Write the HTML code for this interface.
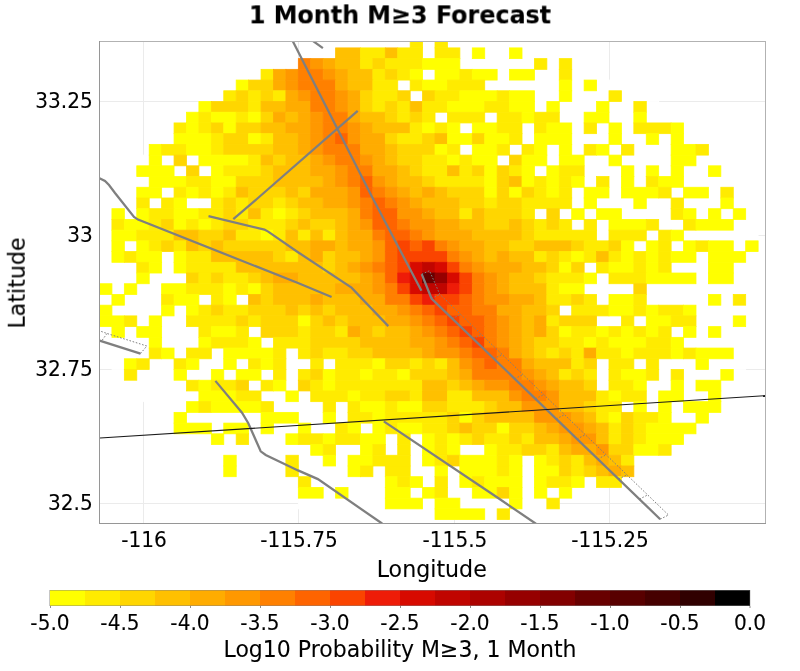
<!DOCTYPE html>
<html><head><meta charset="utf-8"><title>1 Month M≥3 Forecast</title>
<style>
html,body{margin:0;padding:0;background:#fff;}
body{width:800px;height:671px;position:relative;overflow:hidden;font-family:"DejaVu Sans","Liberation Sans",sans-serif;color:#000;}
.t{position:absolute;white-space:nowrap;line-height:1;will-change:transform;transform:scale(1.006,1.03);transform-origin:50% 80%;-webkit-text-stroke:0.1px #000;}
.title{font-weight:bold;font-size:24px;left:0;width:800px;text-align:center;top:3px;transform:scale(0.992,1.03);-webkit-text-stroke:0.1px #000;}
.tk{font-size:20px;}
.xt{top:530px;margin-left:0.5px;text-align:center;width:120px;}
.yt{text-align:right;width:92.5px;left:0;}
.ax{font-size:22px;}
.cb{top:613px;text-align:center;width:80px;font-size:20px;}
</style></head><body>
<svg width="800" height="671" viewBox="0 0 800 671" style="position:absolute;left:0;top:0">
<defs><clipPath id="cp"><rect x="100" y="42" width="665" height="481"/></clipPath></defs>
<rect x="0" y="0" width="800" height="671" fill="#fff"/>
<rect x="143" y="42" width="1" height="481" fill="#ebebeb"/>
<rect x="298" y="42" width="1" height="481" fill="#ebebeb"/>
<rect x="454" y="42" width="1" height="481" fill="#ebebeb"/>
<rect x="609" y="42" width="1" height="481" fill="#ebebeb"/>
<rect x="100" y="101" width="665" height="1" fill="#ebebeb"/>
<rect x="100" y="235" width="665" height="1" fill="#ebebeb"/>
<rect x="100" y="369" width="665" height="1" fill="#ebebeb"/>
<rect x="100" y="503" width="665" height="1" fill="#ebebeb"/>
<g clip-path="url(#cp)" stroke-width="0.8">
<g fill="#fff" stroke="#fff">
<rect x="385.31" y="37.18" width="86.99" height="10.72"/>
<rect x="323.18" y="47.90" width="211.25" height="10.72"/>
<rect x="285.90" y="58.62" width="285.81" height="10.72"/>
<rect x="261.05" y="69.34" width="335.52" height="10.72"/>
<rect x="236.19" y="80.06" width="385.23" height="10.72"/>
<rect x="211.34" y="90.78" width="434.93" height="10.72"/>
<rect x="198.91" y="101.50" width="459.79" height="10.72"/>
<rect x="186.49" y="112.22" width="484.64" height="10.72"/>
<rect x="174.06" y="122.94" width="509.49" height="10.72"/>
<rect x="161.63" y="133.66" width="534.35" height="10.72"/>
<rect x="149.21" y="144.38" width="559.20" height="10.72"/>
<rect x="136.78" y="155.10" width="584.05" height="10.72"/>
<rect x="136.78" y="165.82" width="584.05" height="10.72"/>
<rect x="124.35" y="176.54" width="608.91" height="10.72"/>
<rect x="124.35" y="187.26" width="608.91" height="10.72"/>
<rect x="111.93" y="197.98" width="633.76" height="10.72"/>
<rect x="111.93" y="208.70" width="633.76" height="10.72"/>
<rect x="99.50" y="219.42" width="658.62" height="10.72"/>
<rect x="99.50" y="230.14" width="658.62" height="10.72"/>
<rect x="99.50" y="240.86" width="658.62" height="10.72"/>
<rect x="99.50" y="251.58" width="658.62" height="10.72"/>
<rect x="99.50" y="262.30" width="658.62" height="10.72"/>
<rect x="99.50" y="273.02" width="658.62" height="10.72"/>
<rect x="99.50" y="283.74" width="658.62" height="10.72"/>
<rect x="99.50" y="294.46" width="658.62" height="10.72"/>
<rect x="99.50" y="305.18" width="658.62" height="10.72"/>
<rect x="99.50" y="315.90" width="658.62" height="10.72"/>
<rect x="99.50" y="326.62" width="658.62" height="10.72"/>
<rect x="111.93" y="337.34" width="633.76" height="10.72"/>
<rect x="111.93" y="348.06" width="633.76" height="10.72"/>
<rect x="111.93" y="358.78" width="633.76" height="10.72"/>
<rect x="124.35" y="369.50" width="608.91" height="10.72"/>
<rect x="124.35" y="380.22" width="608.91" height="10.72"/>
<rect x="136.78" y="390.94" width="584.05" height="10.72"/>
<rect x="149.21" y="401.66" width="571.63" height="10.72"/>
<rect x="149.21" y="412.38" width="559.20" height="10.72"/>
<rect x="161.63" y="423.10" width="534.35" height="10.72"/>
<rect x="174.06" y="433.82" width="509.49" height="10.72"/>
<rect x="186.49" y="444.54" width="484.64" height="10.72"/>
<rect x="198.91" y="455.26" width="459.79" height="10.72"/>
<rect x="223.77" y="465.98" width="410.08" height="10.72"/>
<rect x="248.62" y="476.70" width="372.80" height="10.72"/>
<rect x="261.05" y="487.42" width="335.52" height="10.72"/>
<rect x="298.33" y="498.14" width="260.96" height="10.72"/>
<rect x="335.61" y="508.86" width="186.40" height="10.72"/>
</g>
<rect x="410.17" y="37.18" width="12.43" height="10.72" fill="#ffeb00" stroke="#ffeb00"/>
<rect x="435.02" y="37.18" width="12.43" height="10.72" fill="#ffeb00" stroke="#ffeb00"/>
<rect x="335.61" y="47.90" width="24.85" height="10.72" fill="#ffc000" stroke="#ffc000"/>
<rect x="360.46" y="47.90" width="24.85" height="10.72" fill="#ffeb00" stroke="#ffeb00"/>
<rect x="385.31" y="47.90" width="12.43" height="10.72" fill="#ffc000" stroke="#ffc000"/>
<rect x="397.74" y="47.90" width="24.85" height="10.72" fill="#ffeb00" stroke="#ffeb00"/>
<rect x="435.02" y="47.90" width="24.85" height="10.72" fill="#ffeb00" stroke="#ffeb00"/>
<rect x="472.30" y="47.90" width="12.43" height="10.72" fill="#ffff00" stroke="#ffff00"/>
<rect x="509.58" y="47.90" width="12.43" height="10.72" fill="#ffff00" stroke="#ffff00"/>
<rect x="298.33" y="58.62" width="12.43" height="10.72" fill="#ff8000" stroke="#ff8000"/>
<rect x="310.75" y="58.62" width="12.43" height="10.72" fill="#ff9800" stroke="#ff9800"/>
<rect x="323.18" y="58.62" width="12.43" height="10.72" fill="#ffac00" stroke="#ffac00"/>
<rect x="335.61" y="58.62" width="24.85" height="10.72" fill="#ffc000" stroke="#ffc000"/>
<rect x="360.46" y="58.62" width="12.43" height="10.72" fill="#ffeb00" stroke="#ffeb00"/>
<rect x="372.89" y="58.62" width="12.43" height="10.72" fill="#ffd600" stroke="#ffd600"/>
<rect x="385.31" y="58.62" width="37.28" height="10.72" fill="#ffeb00" stroke="#ffeb00"/>
<rect x="422.59" y="58.62" width="37.28" height="10.72" fill="#ffff00" stroke="#ffff00"/>
<rect x="534.43" y="58.62" width="12.43" height="10.72" fill="#ffeb00" stroke="#ffeb00"/>
<rect x="559.29" y="58.62" width="12.43" height="10.72" fill="#ffeb00" stroke="#ffeb00"/>
<rect x="261.05" y="69.34" width="12.43" height="10.72" fill="#ffeb00" stroke="#ffeb00"/>
<rect x="273.47" y="69.34" width="12.43" height="10.72" fill="#ffac00" stroke="#ffac00"/>
<rect x="285.90" y="69.34" width="12.43" height="10.72" fill="#ff9800" stroke="#ff9800"/>
<rect x="298.33" y="69.34" width="24.85" height="10.72" fill="#ff8000" stroke="#ff8000"/>
<rect x="323.18" y="69.34" width="12.43" height="10.72" fill="#ff9800" stroke="#ff9800"/>
<rect x="335.61" y="69.34" width="12.43" height="10.72" fill="#ffac00" stroke="#ffac00"/>
<rect x="348.03" y="69.34" width="24.85" height="10.72" fill="#ffc000" stroke="#ffc000"/>
<rect x="372.89" y="69.34" width="12.43" height="10.72" fill="#ffeb00" stroke="#ffeb00"/>
<rect x="385.31" y="69.34" width="12.43" height="10.72" fill="#ffd600" stroke="#ffd600"/>
<rect x="397.74" y="69.34" width="12.43" height="10.72" fill="#ffeb00" stroke="#ffeb00"/>
<rect x="410.17" y="69.34" width="12.43" height="10.72" fill="#ffff00" stroke="#ffff00"/>
<rect x="435.02" y="69.34" width="24.85" height="10.72" fill="#ffff00" stroke="#ffff00"/>
<rect x="459.87" y="69.34" width="12.43" height="10.72" fill="#ffeb00" stroke="#ffeb00"/>
<rect x="472.30" y="69.34" width="24.85" height="10.72" fill="#ffff00" stroke="#ffff00"/>
<rect x="509.58" y="69.34" width="24.85" height="10.72" fill="#ffff00" stroke="#ffff00"/>
<rect x="559.29" y="69.34" width="12.43" height="10.72" fill="#ffeb00" stroke="#ffeb00"/>
<rect x="236.19" y="80.06" width="12.43" height="10.72" fill="#ffff00" stroke="#ffff00"/>
<rect x="248.62" y="80.06" width="24.85" height="10.72" fill="#ffd600" stroke="#ffd600"/>
<rect x="273.47" y="80.06" width="12.43" height="10.72" fill="#ffac00" stroke="#ffac00"/>
<rect x="285.90" y="80.06" width="12.43" height="10.72" fill="#ff9800" stroke="#ff9800"/>
<rect x="298.33" y="80.06" width="37.28" height="10.72" fill="#ff8000" stroke="#ff8000"/>
<rect x="335.61" y="80.06" width="12.43" height="10.72" fill="#ffac00" stroke="#ffac00"/>
<rect x="348.03" y="80.06" width="24.85" height="10.72" fill="#ffc000" stroke="#ffc000"/>
<rect x="372.89" y="80.06" width="24.85" height="10.72" fill="#ffeb00" stroke="#ffeb00"/>
<rect x="410.17" y="80.06" width="12.43" height="10.72" fill="#ffeb00" stroke="#ffeb00"/>
<rect x="422.59" y="80.06" width="24.85" height="10.72" fill="#ffff00" stroke="#ffff00"/>
<rect x="447.45" y="80.06" width="37.28" height="10.72" fill="#ffeb00" stroke="#ffeb00"/>
<rect x="559.29" y="80.06" width="12.43" height="10.72" fill="#ffff00" stroke="#ffff00"/>
<rect x="584.14" y="80.06" width="12.43" height="10.72" fill="#ffff00" stroke="#ffff00"/>
<rect x="223.77" y="90.78" width="12.43" height="10.72" fill="#ffeb00" stroke="#ffeb00"/>
<rect x="236.19" y="90.78" width="12.43" height="10.72" fill="#ffd600" stroke="#ffd600"/>
<rect x="248.62" y="90.78" width="12.43" height="10.72" fill="#ffeb00" stroke="#ffeb00"/>
<rect x="261.05" y="90.78" width="12.43" height="10.72" fill="#ffd600" stroke="#ffd600"/>
<rect x="273.47" y="90.78" width="12.43" height="10.72" fill="#ffeb00" stroke="#ffeb00"/>
<rect x="285.90" y="90.78" width="12.43" height="10.72" fill="#ffac00" stroke="#ffac00"/>
<rect x="298.33" y="90.78" width="12.43" height="10.72" fill="#ff9800" stroke="#ff9800"/>
<rect x="310.75" y="90.78" width="24.85" height="10.72" fill="#ff8000" stroke="#ff8000"/>
<rect x="335.61" y="90.78" width="12.43" height="10.72" fill="#ff9800" stroke="#ff9800"/>
<rect x="348.03" y="90.78" width="12.43" height="10.72" fill="#ffac00" stroke="#ffac00"/>
<rect x="360.46" y="90.78" width="12.43" height="10.72" fill="#ffd600" stroke="#ffd600"/>
<rect x="372.89" y="90.78" width="24.85" height="10.72" fill="#ffeb00" stroke="#ffeb00"/>
<rect x="397.74" y="90.78" width="12.43" height="10.72" fill="#ffd600" stroke="#ffd600"/>
<rect x="422.59" y="90.78" width="12.43" height="10.72" fill="#ffd600" stroke="#ffd600"/>
<rect x="435.02" y="90.78" width="24.85" height="10.72" fill="#ffeb00" stroke="#ffeb00"/>
<rect x="459.87" y="90.78" width="37.28" height="10.72" fill="#ffff00" stroke="#ffff00"/>
<rect x="497.15" y="90.78" width="12.43" height="10.72" fill="#ffeb00" stroke="#ffeb00"/>
<rect x="509.58" y="90.78" width="24.85" height="10.72" fill="#ffff00" stroke="#ffff00"/>
<rect x="559.29" y="90.78" width="12.43" height="10.72" fill="#ffff00" stroke="#ffff00"/>
<rect x="608.99" y="90.78" width="12.43" height="10.72" fill="#ffeb00" stroke="#ffeb00"/>
<rect x="198.91" y="101.50" width="12.43" height="10.72" fill="#ffff00" stroke="#ffff00"/>
<rect x="211.34" y="101.50" width="37.28" height="10.72" fill="#ffd600" stroke="#ffd600"/>
<rect x="248.62" y="101.50" width="12.43" height="10.72" fill="#ffeb00" stroke="#ffeb00"/>
<rect x="261.05" y="101.50" width="24.85" height="10.72" fill="#ffc000" stroke="#ffc000"/>
<rect x="285.90" y="101.50" width="24.85" height="10.72" fill="#ffac00" stroke="#ffac00"/>
<rect x="310.75" y="101.50" width="24.85" height="10.72" fill="#ff8000" stroke="#ff8000"/>
<rect x="335.61" y="101.50" width="12.43" height="10.72" fill="#ff9800" stroke="#ff9800"/>
<rect x="348.03" y="101.50" width="12.43" height="10.72" fill="#ffac00" stroke="#ffac00"/>
<rect x="360.46" y="101.50" width="12.43" height="10.72" fill="#ffd600" stroke="#ffd600"/>
<rect x="372.89" y="101.50" width="12.43" height="10.72" fill="#ffeb00" stroke="#ffeb00"/>
<rect x="385.31" y="101.50" width="12.43" height="10.72" fill="#ffd600" stroke="#ffd600"/>
<rect x="397.74" y="101.50" width="12.43" height="10.72" fill="#ffeb00" stroke="#ffeb00"/>
<rect x="410.17" y="101.50" width="12.43" height="10.72" fill="#ffc000" stroke="#ffc000"/>
<rect x="422.59" y="101.50" width="24.85" height="10.72" fill="#ffeb00" stroke="#ffeb00"/>
<rect x="447.45" y="101.50" width="37.28" height="10.72" fill="#ffff00" stroke="#ffff00"/>
<rect x="484.73" y="101.50" width="24.85" height="10.72" fill="#ffeb00" stroke="#ffeb00"/>
<rect x="509.58" y="101.50" width="24.85" height="10.72" fill="#ffff00" stroke="#ffff00"/>
<rect x="546.86" y="101.50" width="12.43" height="10.72" fill="#ffff00" stroke="#ffff00"/>
<rect x="596.57" y="101.50" width="12.43" height="10.72" fill="#ffff00" stroke="#ffff00"/>
<rect x="633.85" y="101.50" width="12.43" height="10.72" fill="#ffeb00" stroke="#ffeb00"/>
<rect x="186.49" y="112.22" width="12.43" height="10.72" fill="#ffff00" stroke="#ffff00"/>
<rect x="198.91" y="112.22" width="12.43" height="10.72" fill="#ffeb00" stroke="#ffeb00"/>
<rect x="211.34" y="112.22" width="24.85" height="10.72" fill="#ffff00" stroke="#ffff00"/>
<rect x="236.19" y="112.22" width="12.43" height="10.72" fill="#ffeb00" stroke="#ffeb00"/>
<rect x="248.62" y="112.22" width="12.43" height="10.72" fill="#ffff00" stroke="#ffff00"/>
<rect x="261.05" y="112.22" width="12.43" height="10.72" fill="#ffd600" stroke="#ffd600"/>
<rect x="273.47" y="112.22" width="12.43" height="10.72" fill="#ffac00" stroke="#ffac00"/>
<rect x="285.90" y="112.22" width="12.43" height="10.72" fill="#ffc000" stroke="#ffc000"/>
<rect x="298.33" y="112.22" width="12.43" height="10.72" fill="#ffac00" stroke="#ffac00"/>
<rect x="310.75" y="112.22" width="12.43" height="10.72" fill="#ff9800" stroke="#ff9800"/>
<rect x="323.18" y="112.22" width="24.85" height="10.72" fill="#ff8000" stroke="#ff8000"/>
<rect x="348.03" y="112.22" width="12.43" height="10.72" fill="#ffac00" stroke="#ffac00"/>
<rect x="360.46" y="112.22" width="24.85" height="10.72" fill="#ffc000" stroke="#ffc000"/>
<rect x="385.31" y="112.22" width="12.43" height="10.72" fill="#ffd600" stroke="#ffd600"/>
<rect x="397.74" y="112.22" width="12.43" height="10.72" fill="#ffeb00" stroke="#ffeb00"/>
<rect x="410.17" y="112.22" width="12.43" height="10.72" fill="#ffd600" stroke="#ffd600"/>
<rect x="422.59" y="112.22" width="12.43" height="10.72" fill="#ffeb00" stroke="#ffeb00"/>
<rect x="447.45" y="112.22" width="37.28" height="10.72" fill="#ffeb00" stroke="#ffeb00"/>
<rect x="497.15" y="112.22" width="24.85" height="10.72" fill="#ffeb00" stroke="#ffeb00"/>
<rect x="522.01" y="112.22" width="12.43" height="10.72" fill="#ffff00" stroke="#ffff00"/>
<rect x="534.43" y="112.22" width="24.85" height="10.72" fill="#ffeb00" stroke="#ffeb00"/>
<rect x="584.14" y="112.22" width="24.85" height="10.72" fill="#ffff00" stroke="#ffff00"/>
<rect x="633.85" y="112.22" width="12.43" height="10.72" fill="#ffff00" stroke="#ffff00"/>
<rect x="174.06" y="122.94" width="12.43" height="10.72" fill="#ffeb00" stroke="#ffeb00"/>
<rect x="186.49" y="122.94" width="12.43" height="10.72" fill="#ffff00" stroke="#ffff00"/>
<rect x="198.91" y="122.94" width="12.43" height="10.72" fill="#ffeb00" stroke="#ffeb00"/>
<rect x="211.34" y="122.94" width="12.43" height="10.72" fill="#ffd600" stroke="#ffd600"/>
<rect x="223.77" y="122.94" width="12.43" height="10.72" fill="#ffff00" stroke="#ffff00"/>
<rect x="236.19" y="122.94" width="24.85" height="10.72" fill="#ffd600" stroke="#ffd600"/>
<rect x="261.05" y="122.94" width="24.85" height="10.72" fill="#ffc000" stroke="#ffc000"/>
<rect x="285.90" y="122.94" width="24.85" height="10.72" fill="#ffac00" stroke="#ffac00"/>
<rect x="310.75" y="122.94" width="12.43" height="10.72" fill="#ff9800" stroke="#ff9800"/>
<rect x="323.18" y="122.94" width="24.85" height="10.72" fill="#ff8000" stroke="#ff8000"/>
<rect x="348.03" y="122.94" width="12.43" height="10.72" fill="#ff9800" stroke="#ff9800"/>
<rect x="360.46" y="122.94" width="12.43" height="10.72" fill="#ffac00" stroke="#ffac00"/>
<rect x="372.89" y="122.94" width="37.28" height="10.72" fill="#ffc000" stroke="#ffc000"/>
<rect x="410.17" y="122.94" width="12.43" height="10.72" fill="#ffeb00" stroke="#ffeb00"/>
<rect x="422.59" y="122.94" width="12.43" height="10.72" fill="#ffff00" stroke="#ffff00"/>
<rect x="435.02" y="122.94" width="12.43" height="10.72" fill="#ffeb00" stroke="#ffeb00"/>
<rect x="447.45" y="122.94" width="12.43" height="10.72" fill="#ffff00" stroke="#ffff00"/>
<rect x="472.30" y="122.94" width="24.85" height="10.72" fill="#ffff00" stroke="#ffff00"/>
<rect x="497.15" y="122.94" width="24.85" height="10.72" fill="#ffeb00" stroke="#ffeb00"/>
<rect x="534.43" y="122.94" width="12.43" height="10.72" fill="#ffeb00" stroke="#ffeb00"/>
<rect x="546.86" y="122.94" width="24.85" height="10.72" fill="#ffff00" stroke="#ffff00"/>
<rect x="584.14" y="122.94" width="12.43" height="10.72" fill="#ffeb00" stroke="#ffeb00"/>
<rect x="608.99" y="122.94" width="12.43" height="10.72" fill="#ffff00" stroke="#ffff00"/>
<rect x="633.85" y="122.94" width="37.28" height="10.72" fill="#ffeb00" stroke="#ffeb00"/>
<rect x="671.13" y="122.94" width="12.43" height="10.72" fill="#ffff00" stroke="#ffff00"/>
<rect x="174.06" y="133.66" width="37.28" height="10.72" fill="#ffff00" stroke="#ffff00"/>
<rect x="211.34" y="133.66" width="12.43" height="10.72" fill="#ffeb00" stroke="#ffeb00"/>
<rect x="223.77" y="133.66" width="24.85" height="10.72" fill="#ffd600" stroke="#ffd600"/>
<rect x="248.62" y="133.66" width="12.43" height="10.72" fill="#ffff00" stroke="#ffff00"/>
<rect x="261.05" y="133.66" width="12.43" height="10.72" fill="#ffeb00" stroke="#ffeb00"/>
<rect x="273.47" y="133.66" width="24.85" height="10.72" fill="#ffc000" stroke="#ffc000"/>
<rect x="298.33" y="133.66" width="12.43" height="10.72" fill="#ffac00" stroke="#ffac00"/>
<rect x="310.75" y="133.66" width="12.43" height="10.72" fill="#ff9800" stroke="#ff9800"/>
<rect x="323.18" y="133.66" width="12.43" height="10.72" fill="#ff8000" stroke="#ff8000"/>
<rect x="335.61" y="133.66" width="12.43" height="10.72" fill="#fe6400" stroke="#fe6400"/>
<rect x="348.03" y="133.66" width="12.43" height="10.72" fill="#ff9800" stroke="#ff9800"/>
<rect x="360.46" y="133.66" width="24.85" height="10.72" fill="#ffac00" stroke="#ffac00"/>
<rect x="385.31" y="133.66" width="12.43" height="10.72" fill="#ffd600" stroke="#ffd600"/>
<rect x="397.74" y="133.66" width="24.85" height="10.72" fill="#ffeb00" stroke="#ffeb00"/>
<rect x="422.59" y="133.66" width="12.43" height="10.72" fill="#ffd600" stroke="#ffd600"/>
<rect x="435.02" y="133.66" width="12.43" height="10.72" fill="#ffc000" stroke="#ffc000"/>
<rect x="447.45" y="133.66" width="24.85" height="10.72" fill="#ffff00" stroke="#ffff00"/>
<rect x="472.30" y="133.66" width="12.43" height="10.72" fill="#ffd600" stroke="#ffd600"/>
<rect x="484.73" y="133.66" width="24.85" height="10.72" fill="#ffff00" stroke="#ffff00"/>
<rect x="509.58" y="133.66" width="12.43" height="10.72" fill="#ffeb00" stroke="#ffeb00"/>
<rect x="534.43" y="133.66" width="37.28" height="10.72" fill="#ffff00" stroke="#ffff00"/>
<rect x="608.99" y="133.66" width="12.43" height="10.72" fill="#ffff00" stroke="#ffff00"/>
<rect x="646.27" y="133.66" width="12.43" height="10.72" fill="#ffff00" stroke="#ffff00"/>
<rect x="671.13" y="133.66" width="12.43" height="10.72" fill="#ffff00" stroke="#ffff00"/>
<rect x="149.21" y="144.38" width="12.43" height="10.72" fill="#ffff00" stroke="#ffff00"/>
<rect x="161.63" y="144.38" width="24.85" height="10.72" fill="#ffeb00" stroke="#ffeb00"/>
<rect x="186.49" y="144.38" width="24.85" height="10.72" fill="#ffff00" stroke="#ffff00"/>
<rect x="211.34" y="144.38" width="12.43" height="10.72" fill="#ffeb00" stroke="#ffeb00"/>
<rect x="223.77" y="144.38" width="49.71" height="10.72" fill="#ffd600" stroke="#ffd600"/>
<rect x="273.47" y="144.38" width="24.85" height="10.72" fill="#ffc000" stroke="#ffc000"/>
<rect x="298.33" y="144.38" width="12.43" height="10.72" fill="#ffac00" stroke="#ffac00"/>
<rect x="310.75" y="144.38" width="12.43" height="10.72" fill="#ff9800" stroke="#ff9800"/>
<rect x="323.18" y="144.38" width="37.28" height="10.72" fill="#ff8000" stroke="#ff8000"/>
<rect x="360.46" y="144.38" width="24.85" height="10.72" fill="#ffac00" stroke="#ffac00"/>
<rect x="385.31" y="144.38" width="12.43" height="10.72" fill="#ffc000" stroke="#ffc000"/>
<rect x="397.74" y="144.38" width="37.28" height="10.72" fill="#ffd600" stroke="#ffd600"/>
<rect x="435.02" y="144.38" width="12.43" height="10.72" fill="#ffff00" stroke="#ffff00"/>
<rect x="447.45" y="144.38" width="12.43" height="10.72" fill="#ffeb00" stroke="#ffeb00"/>
<rect x="472.30" y="144.38" width="24.85" height="10.72" fill="#ffff00" stroke="#ffff00"/>
<rect x="497.15" y="144.38" width="12.43" height="10.72" fill="#ffeb00" stroke="#ffeb00"/>
<rect x="522.01" y="144.38" width="12.43" height="10.72" fill="#ffeb00" stroke="#ffeb00"/>
<rect x="534.43" y="144.38" width="12.43" height="10.72" fill="#ffff00" stroke="#ffff00"/>
<rect x="559.29" y="144.38" width="12.43" height="10.72" fill="#ffff00" stroke="#ffff00"/>
<rect x="584.14" y="144.38" width="12.43" height="10.72" fill="#ffeb00" stroke="#ffeb00"/>
<rect x="596.57" y="144.38" width="12.43" height="10.72" fill="#ffff00" stroke="#ffff00"/>
<rect x="621.42" y="144.38" width="12.43" height="10.72" fill="#ffeb00" stroke="#ffeb00"/>
<rect x="671.13" y="144.38" width="24.85" height="10.72" fill="#ffff00" stroke="#ffff00"/>
<rect x="695.98" y="144.38" width="12.43" height="10.72" fill="#ffeb00" stroke="#ffeb00"/>
<rect x="149.21" y="155.10" width="12.43" height="10.72" fill="#ffff00" stroke="#ffff00"/>
<rect x="174.06" y="155.10" width="12.43" height="10.72" fill="#ffd600" stroke="#ffd600"/>
<rect x="198.91" y="155.10" width="49.71" height="10.72" fill="#ffff00" stroke="#ffff00"/>
<rect x="248.62" y="155.10" width="12.43" height="10.72" fill="#ffeb00" stroke="#ffeb00"/>
<rect x="261.05" y="155.10" width="12.43" height="10.72" fill="#ffc000" stroke="#ffc000"/>
<rect x="273.47" y="155.10" width="12.43" height="10.72" fill="#ffd600" stroke="#ffd600"/>
<rect x="285.90" y="155.10" width="24.85" height="10.72" fill="#ffc000" stroke="#ffc000"/>
<rect x="310.75" y="155.10" width="12.43" height="10.72" fill="#ffac00" stroke="#ffac00"/>
<rect x="323.18" y="155.10" width="12.43" height="10.72" fill="#ff9800" stroke="#ff9800"/>
<rect x="335.61" y="155.10" width="24.85" height="10.72" fill="#ff8000" stroke="#ff8000"/>
<rect x="360.46" y="155.10" width="12.43" height="10.72" fill="#ff9800" stroke="#ff9800"/>
<rect x="372.89" y="155.10" width="12.43" height="10.72" fill="#ffac00" stroke="#ffac00"/>
<rect x="385.31" y="155.10" width="12.43" height="10.72" fill="#ffc000" stroke="#ffc000"/>
<rect x="397.74" y="155.10" width="24.85" height="10.72" fill="#ffd600" stroke="#ffd600"/>
<rect x="422.59" y="155.10" width="24.85" height="10.72" fill="#ffeb00" stroke="#ffeb00"/>
<rect x="447.45" y="155.10" width="12.43" height="10.72" fill="#ffff00" stroke="#ffff00"/>
<rect x="459.87" y="155.10" width="12.43" height="10.72" fill="#ffeb00" stroke="#ffeb00"/>
<rect x="472.30" y="155.10" width="24.85" height="10.72" fill="#ffff00" stroke="#ffff00"/>
<rect x="509.58" y="155.10" width="12.43" height="10.72" fill="#ffd600" stroke="#ffd600"/>
<rect x="522.01" y="155.10" width="24.85" height="10.72" fill="#ffff00" stroke="#ffff00"/>
<rect x="559.29" y="155.10" width="24.85" height="10.72" fill="#ffff00" stroke="#ffff00"/>
<rect x="608.99" y="155.10" width="12.43" height="10.72" fill="#ffff00" stroke="#ffff00"/>
<rect x="671.13" y="155.10" width="24.85" height="10.72" fill="#ffff00" stroke="#ffff00"/>
<rect x="136.78" y="165.82" width="37.28" height="10.72" fill="#ffff00" stroke="#ffff00"/>
<rect x="186.49" y="165.82" width="12.43" height="10.72" fill="#ffd600" stroke="#ffd600"/>
<rect x="211.34" y="165.82" width="12.43" height="10.72" fill="#ffff00" stroke="#ffff00"/>
<rect x="223.77" y="165.82" width="37.28" height="10.72" fill="#ffeb00" stroke="#ffeb00"/>
<rect x="261.05" y="165.82" width="12.43" height="10.72" fill="#ffd600" stroke="#ffd600"/>
<rect x="273.47" y="165.82" width="37.28" height="10.72" fill="#ffc000" stroke="#ffc000"/>
<rect x="310.75" y="165.82" width="24.85" height="10.72" fill="#ffac00" stroke="#ffac00"/>
<rect x="335.61" y="165.82" width="12.43" height="10.72" fill="#ff9800" stroke="#ff9800"/>
<rect x="348.03" y="165.82" width="24.85" height="10.72" fill="#ff8000" stroke="#ff8000"/>
<rect x="372.89" y="165.82" width="24.85" height="10.72" fill="#ffac00" stroke="#ffac00"/>
<rect x="397.74" y="165.82" width="12.43" height="10.72" fill="#ffc000" stroke="#ffc000"/>
<rect x="410.17" y="165.82" width="12.43" height="10.72" fill="#ffd600" stroke="#ffd600"/>
<rect x="422.59" y="165.82" width="24.85" height="10.72" fill="#ffeb00" stroke="#ffeb00"/>
<rect x="447.45" y="165.82" width="12.43" height="10.72" fill="#ffc000" stroke="#ffc000"/>
<rect x="459.87" y="165.82" width="12.43" height="10.72" fill="#ffeb00" stroke="#ffeb00"/>
<rect x="472.30" y="165.82" width="12.43" height="10.72" fill="#ffd600" stroke="#ffd600"/>
<rect x="484.73" y="165.82" width="12.43" height="10.72" fill="#ffff00" stroke="#ffff00"/>
<rect x="497.15" y="165.82" width="12.43" height="10.72" fill="#ffd600" stroke="#ffd600"/>
<rect x="509.58" y="165.82" width="12.43" height="10.72" fill="#ffeb00" stroke="#ffeb00"/>
<rect x="522.01" y="165.82" width="12.43" height="10.72" fill="#ffff00" stroke="#ffff00"/>
<rect x="546.86" y="165.82" width="12.43" height="10.72" fill="#ffff00" stroke="#ffff00"/>
<rect x="559.29" y="165.82" width="24.85" height="10.72" fill="#ffeb00" stroke="#ffeb00"/>
<rect x="621.42" y="165.82" width="12.43" height="10.72" fill="#ffff00" stroke="#ffff00"/>
<rect x="646.27" y="165.82" width="12.43" height="10.72" fill="#ffff00" stroke="#ffff00"/>
<rect x="671.13" y="165.82" width="12.43" height="10.72" fill="#ffff00" stroke="#ffff00"/>
<rect x="708.41" y="165.82" width="12.43" height="10.72" fill="#ffff00" stroke="#ffff00"/>
<rect x="149.21" y="176.54" width="37.28" height="10.72" fill="#ffff00" stroke="#ffff00"/>
<rect x="186.49" y="176.54" width="24.85" height="10.72" fill="#ffeb00" stroke="#ffeb00"/>
<rect x="211.34" y="176.54" width="24.85" height="10.72" fill="#ffff00" stroke="#ffff00"/>
<rect x="236.19" y="176.54" width="37.28" height="10.72" fill="#ffd600" stroke="#ffd600"/>
<rect x="273.47" y="176.54" width="49.71" height="10.72" fill="#ffc000" stroke="#ffc000"/>
<rect x="323.18" y="176.54" width="12.43" height="10.72" fill="#ffac00" stroke="#ffac00"/>
<rect x="335.61" y="176.54" width="12.43" height="10.72" fill="#ff9800" stroke="#ff9800"/>
<rect x="348.03" y="176.54" width="12.43" height="10.72" fill="#ff8000" stroke="#ff8000"/>
<rect x="360.46" y="176.54" width="12.43" height="10.72" fill="#fe6400" stroke="#fe6400"/>
<rect x="372.89" y="176.54" width="12.43" height="10.72" fill="#ff9800" stroke="#ff9800"/>
<rect x="385.31" y="176.54" width="12.43" height="10.72" fill="#ffac00" stroke="#ffac00"/>
<rect x="397.74" y="176.54" width="24.85" height="10.72" fill="#ffc000" stroke="#ffc000"/>
<rect x="422.59" y="176.54" width="12.43" height="10.72" fill="#ffd600" stroke="#ffd600"/>
<rect x="435.02" y="176.54" width="49.71" height="10.72" fill="#ffeb00" stroke="#ffeb00"/>
<rect x="484.73" y="176.54" width="12.43" height="10.72" fill="#ffff00" stroke="#ffff00"/>
<rect x="497.15" y="176.54" width="12.43" height="10.72" fill="#ffd600" stroke="#ffd600"/>
<rect x="509.58" y="176.54" width="12.43" height="10.72" fill="#ffc000" stroke="#ffc000"/>
<rect x="522.01" y="176.54" width="12.43" height="10.72" fill="#ffff00" stroke="#ffff00"/>
<rect x="534.43" y="176.54" width="12.43" height="10.72" fill="#ffeb00" stroke="#ffeb00"/>
<rect x="546.86" y="176.54" width="12.43" height="10.72" fill="#ffff00" stroke="#ffff00"/>
<rect x="559.29" y="176.54" width="12.43" height="10.72" fill="#ffeb00" stroke="#ffeb00"/>
<rect x="571.71" y="176.54" width="12.43" height="10.72" fill="#ffff00" stroke="#ffff00"/>
<rect x="596.57" y="176.54" width="12.43" height="10.72" fill="#ffeb00" stroke="#ffeb00"/>
<rect x="621.42" y="176.54" width="12.43" height="10.72" fill="#ffff00" stroke="#ffff00"/>
<rect x="646.27" y="176.54" width="12.43" height="10.72" fill="#ffeb00" stroke="#ffeb00"/>
<rect x="658.70" y="176.54" width="24.85" height="10.72" fill="#ffff00" stroke="#ffff00"/>
<rect x="136.78" y="187.26" width="24.85" height="10.72" fill="#ffff00" stroke="#ffff00"/>
<rect x="174.06" y="187.26" width="12.43" height="10.72" fill="#ffeb00" stroke="#ffeb00"/>
<rect x="186.49" y="187.26" width="12.43" height="10.72" fill="#ffff00" stroke="#ffff00"/>
<rect x="198.91" y="187.26" width="12.43" height="10.72" fill="#ffeb00" stroke="#ffeb00"/>
<rect x="211.34" y="187.26" width="12.43" height="10.72" fill="#ffff00" stroke="#ffff00"/>
<rect x="223.77" y="187.26" width="12.43" height="10.72" fill="#ffeb00" stroke="#ffeb00"/>
<rect x="236.19" y="187.26" width="12.43" height="10.72" fill="#ffc000" stroke="#ffc000"/>
<rect x="248.62" y="187.26" width="37.28" height="10.72" fill="#ffd600" stroke="#ffd600"/>
<rect x="285.90" y="187.26" width="12.43" height="10.72" fill="#ffc000" stroke="#ffc000"/>
<rect x="298.33" y="187.26" width="12.43" height="10.72" fill="#ffd600" stroke="#ffd600"/>
<rect x="310.75" y="187.26" width="37.28" height="10.72" fill="#ffac00" stroke="#ffac00"/>
<rect x="348.03" y="187.26" width="12.43" height="10.72" fill="#ff9800" stroke="#ff9800"/>
<rect x="360.46" y="187.26" width="12.43" height="10.72" fill="#fe6400" stroke="#fe6400"/>
<rect x="372.89" y="187.26" width="12.43" height="10.72" fill="#ff8000" stroke="#ff8000"/>
<rect x="385.31" y="187.26" width="12.43" height="10.72" fill="#ff9800" stroke="#ff9800"/>
<rect x="397.74" y="187.26" width="12.43" height="10.72" fill="#ffac00" stroke="#ffac00"/>
<rect x="410.17" y="187.26" width="12.43" height="10.72" fill="#ffc000" stroke="#ffc000"/>
<rect x="422.59" y="187.26" width="12.43" height="10.72" fill="#ffac00" stroke="#ffac00"/>
<rect x="435.02" y="187.26" width="12.43" height="10.72" fill="#ffc000" stroke="#ffc000"/>
<rect x="447.45" y="187.26" width="37.28" height="10.72" fill="#ffd600" stroke="#ffd600"/>
<rect x="484.73" y="187.26" width="12.43" height="10.72" fill="#ffff00" stroke="#ffff00"/>
<rect x="497.15" y="187.26" width="12.43" height="10.72" fill="#ffd600" stroke="#ffd600"/>
<rect x="509.58" y="187.26" width="12.43" height="10.72" fill="#ffff00" stroke="#ffff00"/>
<rect x="522.01" y="187.26" width="12.43" height="10.72" fill="#ffd600" stroke="#ffd600"/>
<rect x="534.43" y="187.26" width="12.43" height="10.72" fill="#ffeb00" stroke="#ffeb00"/>
<rect x="546.86" y="187.26" width="12.43" height="10.72" fill="#ffff00" stroke="#ffff00"/>
<rect x="559.29" y="187.26" width="12.43" height="10.72" fill="#ffeb00" stroke="#ffeb00"/>
<rect x="584.14" y="187.26" width="24.85" height="10.72" fill="#ffff00" stroke="#ffff00"/>
<rect x="621.42" y="187.26" width="37.28" height="10.72" fill="#ffff00" stroke="#ffff00"/>
<rect x="658.70" y="187.26" width="12.43" height="10.72" fill="#ffeb00" stroke="#ffeb00"/>
<rect x="683.55" y="187.26" width="24.85" height="10.72" fill="#ffff00" stroke="#ffff00"/>
<rect x="720.84" y="187.26" width="12.43" height="10.72" fill="#ffeb00" stroke="#ffeb00"/>
<rect x="136.78" y="197.98" width="12.43" height="10.72" fill="#ffeb00" stroke="#ffeb00"/>
<rect x="161.63" y="197.98" width="12.43" height="10.72" fill="#ffeb00" stroke="#ffeb00"/>
<rect x="174.06" y="197.98" width="12.43" height="10.72" fill="#ffff00" stroke="#ffff00"/>
<rect x="211.34" y="197.98" width="12.43" height="10.72" fill="#ffeb00" stroke="#ffeb00"/>
<rect x="223.77" y="197.98" width="12.43" height="10.72" fill="#ffd600" stroke="#ffd600"/>
<rect x="236.19" y="197.98" width="12.43" height="10.72" fill="#ffeb00" stroke="#ffeb00"/>
<rect x="248.62" y="197.98" width="24.85" height="10.72" fill="#ffd600" stroke="#ffd600"/>
<rect x="273.47" y="197.98" width="12.43" height="10.72" fill="#ffeb00" stroke="#ffeb00"/>
<rect x="285.90" y="197.98" width="12.43" height="10.72" fill="#ffd600" stroke="#ffd600"/>
<rect x="298.33" y="197.98" width="24.85" height="10.72" fill="#ffc000" stroke="#ffc000"/>
<rect x="323.18" y="197.98" width="24.85" height="10.72" fill="#ffac00" stroke="#ffac00"/>
<rect x="348.03" y="197.98" width="12.43" height="10.72" fill="#ff9800" stroke="#ff9800"/>
<rect x="360.46" y="197.98" width="12.43" height="10.72" fill="#ff8000" stroke="#ff8000"/>
<rect x="372.89" y="197.98" width="12.43" height="10.72" fill="#fe6400" stroke="#fe6400"/>
<rect x="385.31" y="197.98" width="12.43" height="10.72" fill="#ff8000" stroke="#ff8000"/>
<rect x="397.74" y="197.98" width="12.43" height="10.72" fill="#ff9800" stroke="#ff9800"/>
<rect x="410.17" y="197.98" width="12.43" height="10.72" fill="#ffac00" stroke="#ffac00"/>
<rect x="422.59" y="197.98" width="37.28" height="10.72" fill="#ffc000" stroke="#ffc000"/>
<rect x="459.87" y="197.98" width="24.85" height="10.72" fill="#ffd600" stroke="#ffd600"/>
<rect x="484.73" y="197.98" width="12.43" height="10.72" fill="#ffeb00" stroke="#ffeb00"/>
<rect x="497.15" y="197.98" width="24.85" height="10.72" fill="#ffd600" stroke="#ffd600"/>
<rect x="522.01" y="197.98" width="49.71" height="10.72" fill="#ffeb00" stroke="#ffeb00"/>
<rect x="584.14" y="197.98" width="12.43" height="10.72" fill="#ffff00" stroke="#ffff00"/>
<rect x="633.85" y="197.98" width="12.43" height="10.72" fill="#ffff00" stroke="#ffff00"/>
<rect x="671.13" y="197.98" width="12.43" height="10.72" fill="#ffeb00" stroke="#ffeb00"/>
<rect x="720.84" y="197.98" width="12.43" height="10.72" fill="#ffff00" stroke="#ffff00"/>
<rect x="111.93" y="208.70" width="12.43" height="10.72" fill="#ffff00" stroke="#ffff00"/>
<rect x="136.78" y="208.70" width="12.43" height="10.72" fill="#ffff00" stroke="#ffff00"/>
<rect x="149.21" y="208.70" width="24.85" height="10.72" fill="#ffeb00" stroke="#ffeb00"/>
<rect x="174.06" y="208.70" width="24.85" height="10.72" fill="#ffff00" stroke="#ffff00"/>
<rect x="198.91" y="208.70" width="24.85" height="10.72" fill="#ffeb00" stroke="#ffeb00"/>
<rect x="223.77" y="208.70" width="12.43" height="10.72" fill="#ffd600" stroke="#ffd600"/>
<rect x="236.19" y="208.70" width="12.43" height="10.72" fill="#ffeb00" stroke="#ffeb00"/>
<rect x="248.62" y="208.70" width="12.43" height="10.72" fill="#ffc000" stroke="#ffc000"/>
<rect x="261.05" y="208.70" width="12.43" height="10.72" fill="#ffeb00" stroke="#ffeb00"/>
<rect x="273.47" y="208.70" width="12.43" height="10.72" fill="#ffff00" stroke="#ffff00"/>
<rect x="285.90" y="208.70" width="12.43" height="10.72" fill="#ffeb00" stroke="#ffeb00"/>
<rect x="298.33" y="208.70" width="12.43" height="10.72" fill="#ffd600" stroke="#ffd600"/>
<rect x="310.75" y="208.70" width="37.28" height="10.72" fill="#ffc000" stroke="#ffc000"/>
<rect x="348.03" y="208.70" width="12.43" height="10.72" fill="#ffac00" stroke="#ffac00"/>
<rect x="360.46" y="208.70" width="12.43" height="10.72" fill="#ff8000" stroke="#ff8000"/>
<rect x="372.89" y="208.70" width="24.85" height="10.72" fill="#fe6400" stroke="#fe6400"/>
<rect x="397.74" y="208.70" width="24.85" height="10.72" fill="#ff9800" stroke="#ff9800"/>
<rect x="422.59" y="208.70" width="12.43" height="10.72" fill="#ffac00" stroke="#ffac00"/>
<rect x="435.02" y="208.70" width="24.85" height="10.72" fill="#ffc000" stroke="#ffc000"/>
<rect x="459.87" y="208.70" width="12.43" height="10.72" fill="#ffeb00" stroke="#ffeb00"/>
<rect x="472.30" y="208.70" width="12.43" height="10.72" fill="#ffc000" stroke="#ffc000"/>
<rect x="484.73" y="208.70" width="37.28" height="10.72" fill="#ffd600" stroke="#ffd600"/>
<rect x="522.01" y="208.70" width="12.43" height="10.72" fill="#ffeb00" stroke="#ffeb00"/>
<rect x="546.86" y="208.70" width="12.43" height="10.72" fill="#ffd600" stroke="#ffd600"/>
<rect x="571.71" y="208.70" width="12.43" height="10.72" fill="#ffff00" stroke="#ffff00"/>
<rect x="596.57" y="208.70" width="24.85" height="10.72" fill="#ffff00" stroke="#ffff00"/>
<rect x="671.13" y="208.70" width="12.43" height="10.72" fill="#ffeb00" stroke="#ffeb00"/>
<rect x="683.55" y="208.70" width="12.43" height="10.72" fill="#ffff00" stroke="#ffff00"/>
<rect x="708.41" y="208.70" width="12.43" height="10.72" fill="#ffff00" stroke="#ffff00"/>
<rect x="733.26" y="208.70" width="12.43" height="10.72" fill="#ffff00" stroke="#ffff00"/>
<rect x="111.93" y="219.42" width="12.43" height="10.72" fill="#ffeb00" stroke="#ffeb00"/>
<rect x="124.35" y="219.42" width="24.85" height="10.72" fill="#ffff00" stroke="#ffff00"/>
<rect x="149.21" y="219.42" width="12.43" height="10.72" fill="#ffeb00" stroke="#ffeb00"/>
<rect x="161.63" y="219.42" width="12.43" height="10.72" fill="#ffd600" stroke="#ffd600"/>
<rect x="174.06" y="219.42" width="12.43" height="10.72" fill="#ffff00" stroke="#ffff00"/>
<rect x="186.49" y="219.42" width="12.43" height="10.72" fill="#ffeb00" stroke="#ffeb00"/>
<rect x="198.91" y="219.42" width="12.43" height="10.72" fill="#ffff00" stroke="#ffff00"/>
<rect x="211.34" y="219.42" width="12.43" height="10.72" fill="#ffeb00" stroke="#ffeb00"/>
<rect x="223.77" y="219.42" width="24.85" height="10.72" fill="#ffd600" stroke="#ffd600"/>
<rect x="248.62" y="219.42" width="37.28" height="10.72" fill="#ffeb00" stroke="#ffeb00"/>
<rect x="285.90" y="219.42" width="12.43" height="10.72" fill="#ffd600" stroke="#ffd600"/>
<rect x="298.33" y="219.42" width="12.43" height="10.72" fill="#ffc000" stroke="#ffc000"/>
<rect x="310.75" y="219.42" width="24.85" height="10.72" fill="#ffd600" stroke="#ffd600"/>
<rect x="335.61" y="219.42" width="12.43" height="10.72" fill="#ffc000" stroke="#ffc000"/>
<rect x="348.03" y="219.42" width="12.43" height="10.72" fill="#ffac00" stroke="#ffac00"/>
<rect x="360.46" y="219.42" width="12.43" height="10.72" fill="#ff9800" stroke="#ff9800"/>
<rect x="372.89" y="219.42" width="24.85" height="10.72" fill="#fe6400" stroke="#fe6400"/>
<rect x="397.74" y="219.42" width="12.43" height="10.72" fill="#ff8000" stroke="#ff8000"/>
<rect x="410.17" y="219.42" width="24.85" height="10.72" fill="#ff9800" stroke="#ff9800"/>
<rect x="435.02" y="219.42" width="24.85" height="10.72" fill="#ffac00" stroke="#ffac00"/>
<rect x="459.87" y="219.42" width="24.85" height="10.72" fill="#ffc000" stroke="#ffc000"/>
<rect x="484.73" y="219.42" width="24.85" height="10.72" fill="#ffd600" stroke="#ffd600"/>
<rect x="509.58" y="219.42" width="12.43" height="10.72" fill="#ffc000" stroke="#ffc000"/>
<rect x="522.01" y="219.42" width="12.43" height="10.72" fill="#ffd600" stroke="#ffd600"/>
<rect x="534.43" y="219.42" width="12.43" height="10.72" fill="#ffeb00" stroke="#ffeb00"/>
<rect x="546.86" y="219.42" width="12.43" height="10.72" fill="#ffd600" stroke="#ffd600"/>
<rect x="559.29" y="219.42" width="12.43" height="10.72" fill="#ffeb00" stroke="#ffeb00"/>
<rect x="584.14" y="219.42" width="12.43" height="10.72" fill="#ffeb00" stroke="#ffeb00"/>
<rect x="608.99" y="219.42" width="37.28" height="10.72" fill="#ffff00" stroke="#ffff00"/>
<rect x="646.27" y="219.42" width="12.43" height="10.72" fill="#ffeb00" stroke="#ffeb00"/>
<rect x="683.55" y="219.42" width="12.43" height="10.72" fill="#ffeb00" stroke="#ffeb00"/>
<rect x="695.98" y="219.42" width="37.28" height="10.72" fill="#ffff00" stroke="#ffff00"/>
<rect x="111.93" y="230.14" width="24.85" height="10.72" fill="#ffff00" stroke="#ffff00"/>
<rect x="136.78" y="230.14" width="37.28" height="10.72" fill="#ffeb00" stroke="#ffeb00"/>
<rect x="174.06" y="230.14" width="24.85" height="10.72" fill="#ffc000" stroke="#ffc000"/>
<rect x="198.91" y="230.14" width="24.85" height="10.72" fill="#ffd600" stroke="#ffd600"/>
<rect x="223.77" y="230.14" width="12.43" height="10.72" fill="#ffc000" stroke="#ffc000"/>
<rect x="236.19" y="230.14" width="24.85" height="10.72" fill="#ffeb00" stroke="#ffeb00"/>
<rect x="261.05" y="230.14" width="12.43" height="10.72" fill="#ffff00" stroke="#ffff00"/>
<rect x="273.47" y="230.14" width="12.43" height="10.72" fill="#ffeb00" stroke="#ffeb00"/>
<rect x="285.90" y="230.14" width="12.43" height="10.72" fill="#ffc000" stroke="#ffc000"/>
<rect x="298.33" y="230.14" width="12.43" height="10.72" fill="#ffeb00" stroke="#ffeb00"/>
<rect x="310.75" y="230.14" width="12.43" height="10.72" fill="#ffc000" stroke="#ffc000"/>
<rect x="323.18" y="230.14" width="12.43" height="10.72" fill="#ffeb00" stroke="#ffeb00"/>
<rect x="335.61" y="230.14" width="12.43" height="10.72" fill="#ffc000" stroke="#ffc000"/>
<rect x="348.03" y="230.14" width="24.85" height="10.72" fill="#ffac00" stroke="#ffac00"/>
<rect x="372.89" y="230.14" width="12.43" height="10.72" fill="#ff8000" stroke="#ff8000"/>
<rect x="385.31" y="230.14" width="24.85" height="10.72" fill="#fe6400" stroke="#fe6400"/>
<rect x="410.17" y="230.14" width="12.43" height="10.72" fill="#ff8000" stroke="#ff8000"/>
<rect x="422.59" y="230.14" width="12.43" height="10.72" fill="#ff9800" stroke="#ff9800"/>
<rect x="435.02" y="230.14" width="37.28" height="10.72" fill="#ffac00" stroke="#ffac00"/>
<rect x="472.30" y="230.14" width="49.71" height="10.72" fill="#ffc000" stroke="#ffc000"/>
<rect x="522.01" y="230.14" width="12.43" height="10.72" fill="#ffd600" stroke="#ffd600"/>
<rect x="534.43" y="230.14" width="62.13" height="10.72" fill="#ffeb00" stroke="#ffeb00"/>
<rect x="608.99" y="230.14" width="37.28" height="10.72" fill="#ffeb00" stroke="#ffeb00"/>
<rect x="658.70" y="230.14" width="12.43" height="10.72" fill="#ffeb00" stroke="#ffeb00"/>
<rect x="671.13" y="230.14" width="12.43" height="10.72" fill="#ffff00" stroke="#ffff00"/>
<rect x="111.93" y="240.86" width="12.43" height="10.72" fill="#ffff00" stroke="#ffff00"/>
<rect x="136.78" y="240.86" width="12.43" height="10.72" fill="#ffff00" stroke="#ffff00"/>
<rect x="149.21" y="240.86" width="12.43" height="10.72" fill="#ffeb00" stroke="#ffeb00"/>
<rect x="161.63" y="240.86" width="12.43" height="10.72" fill="#ffd600" stroke="#ffd600"/>
<rect x="174.06" y="240.86" width="12.43" height="10.72" fill="#ffeb00" stroke="#ffeb00"/>
<rect x="186.49" y="240.86" width="12.43" height="10.72" fill="#ffc000" stroke="#ffc000"/>
<rect x="198.91" y="240.86" width="12.43" height="10.72" fill="#ffd600" stroke="#ffd600"/>
<rect x="211.34" y="240.86" width="12.43" height="10.72" fill="#ffc000" stroke="#ffc000"/>
<rect x="223.77" y="240.86" width="62.13" height="10.72" fill="#ffd600" stroke="#ffd600"/>
<rect x="285.90" y="240.86" width="24.85" height="10.72" fill="#ffc000" stroke="#ffc000"/>
<rect x="310.75" y="240.86" width="24.85" height="10.72" fill="#ffac00" stroke="#ffac00"/>
<rect x="335.61" y="240.86" width="12.43" height="10.72" fill="#ffc000" stroke="#ffc000"/>
<rect x="348.03" y="240.86" width="24.85" height="10.72" fill="#ffac00" stroke="#ffac00"/>
<rect x="372.89" y="240.86" width="12.43" height="10.72" fill="#ff9800" stroke="#ff9800"/>
<rect x="385.31" y="240.86" width="12.43" height="10.72" fill="#fe6400" stroke="#fe6400"/>
<rect x="397.74" y="240.86" width="12.43" height="10.72" fill="#fa4400" stroke="#fa4400"/>
<rect x="410.17" y="240.86" width="12.43" height="10.72" fill="#fe6400" stroke="#fe6400"/>
<rect x="422.59" y="240.86" width="12.43" height="10.72" fill="#fa4400" stroke="#fa4400"/>
<rect x="435.02" y="240.86" width="12.43" height="10.72" fill="#ff8000" stroke="#ff8000"/>
<rect x="447.45" y="240.86" width="12.43" height="10.72" fill="#ff9800" stroke="#ff9800"/>
<rect x="459.87" y="240.86" width="24.85" height="10.72" fill="#ffac00" stroke="#ffac00"/>
<rect x="484.73" y="240.86" width="24.85" height="10.72" fill="#ffc000" stroke="#ffc000"/>
<rect x="509.58" y="240.86" width="24.85" height="10.72" fill="#ffd600" stroke="#ffd600"/>
<rect x="534.43" y="240.86" width="37.28" height="10.72" fill="#ffc000" stroke="#ffc000"/>
<rect x="571.71" y="240.86" width="12.43" height="10.72" fill="#ffd600" stroke="#ffd600"/>
<rect x="584.14" y="240.86" width="24.85" height="10.72" fill="#ffeb00" stroke="#ffeb00"/>
<rect x="608.99" y="240.86" width="12.43" height="10.72" fill="#ffd600" stroke="#ffd600"/>
<rect x="621.42" y="240.86" width="12.43" height="10.72" fill="#ffff00" stroke="#ffff00"/>
<rect x="646.27" y="240.86" width="12.43" height="10.72" fill="#ffff00" stroke="#ffff00"/>
<rect x="658.70" y="240.86" width="12.43" height="10.72" fill="#ffeb00" stroke="#ffeb00"/>
<rect x="683.55" y="240.86" width="12.43" height="10.72" fill="#ffff00" stroke="#ffff00"/>
<rect x="695.98" y="240.86" width="12.43" height="10.72" fill="#ffeb00" stroke="#ffeb00"/>
<rect x="708.41" y="240.86" width="24.85" height="10.72" fill="#ffff00" stroke="#ffff00"/>
<rect x="745.69" y="240.86" width="12.43" height="10.72" fill="#ffff00" stroke="#ffff00"/>
<rect x="111.93" y="251.58" width="12.43" height="10.72" fill="#ffff00" stroke="#ffff00"/>
<rect x="124.35" y="251.58" width="12.43" height="10.72" fill="#ffeb00" stroke="#ffeb00"/>
<rect x="136.78" y="251.58" width="24.85" height="10.72" fill="#ffff00" stroke="#ffff00"/>
<rect x="174.06" y="251.58" width="12.43" height="10.72" fill="#ffff00" stroke="#ffff00"/>
<rect x="186.49" y="251.58" width="24.85" height="10.72" fill="#ffeb00" stroke="#ffeb00"/>
<rect x="211.34" y="251.58" width="62.13" height="10.72" fill="#ffc000" stroke="#ffc000"/>
<rect x="273.47" y="251.58" width="12.43" height="10.72" fill="#ffd600" stroke="#ffd600"/>
<rect x="285.90" y="251.58" width="12.43" height="10.72" fill="#ffeb00" stroke="#ffeb00"/>
<rect x="298.33" y="251.58" width="12.43" height="10.72" fill="#ffc000" stroke="#ffc000"/>
<rect x="310.75" y="251.58" width="12.43" height="10.72" fill="#ffac00" stroke="#ffac00"/>
<rect x="323.18" y="251.58" width="12.43" height="10.72" fill="#ffd600" stroke="#ffd600"/>
<rect x="335.61" y="251.58" width="24.85" height="10.72" fill="#ffc000" stroke="#ffc000"/>
<rect x="360.46" y="251.58" width="12.43" height="10.72" fill="#ffac00" stroke="#ffac00"/>
<rect x="372.89" y="251.58" width="12.43" height="10.72" fill="#ff9800" stroke="#ff9800"/>
<rect x="385.31" y="251.58" width="12.43" height="10.72" fill="#fe6400" stroke="#fe6400"/>
<rect x="397.74" y="251.58" width="49.71" height="10.72" fill="#fa4400" stroke="#fa4400"/>
<rect x="447.45" y="251.58" width="12.43" height="10.72" fill="#ff8000" stroke="#ff8000"/>
<rect x="459.87" y="251.58" width="12.43" height="10.72" fill="#ff9800" stroke="#ff9800"/>
<rect x="472.30" y="251.58" width="12.43" height="10.72" fill="#ffac00" stroke="#ffac00"/>
<rect x="484.73" y="251.58" width="12.43" height="10.72" fill="#ffc000" stroke="#ffc000"/>
<rect x="497.15" y="251.58" width="12.43" height="10.72" fill="#ffac00" stroke="#ffac00"/>
<rect x="509.58" y="251.58" width="24.85" height="10.72" fill="#ffc000" stroke="#ffc000"/>
<rect x="534.43" y="251.58" width="12.43" height="10.72" fill="#ffeb00" stroke="#ffeb00"/>
<rect x="546.86" y="251.58" width="12.43" height="10.72" fill="#ffd600" stroke="#ffd600"/>
<rect x="559.29" y="251.58" width="12.43" height="10.72" fill="#ffeb00" stroke="#ffeb00"/>
<rect x="571.71" y="251.58" width="12.43" height="10.72" fill="#ffff00" stroke="#ffff00"/>
<rect x="584.14" y="251.58" width="12.43" height="10.72" fill="#ffeb00" stroke="#ffeb00"/>
<rect x="596.57" y="251.58" width="12.43" height="10.72" fill="#ffc000" stroke="#ffc000"/>
<rect x="608.99" y="251.58" width="12.43" height="10.72" fill="#ffeb00" stroke="#ffeb00"/>
<rect x="621.42" y="251.58" width="12.43" height="10.72" fill="#ffff00" stroke="#ffff00"/>
<rect x="633.85" y="251.58" width="12.43" height="10.72" fill="#ffeb00" stroke="#ffeb00"/>
<rect x="646.27" y="251.58" width="12.43" height="10.72" fill="#ffff00" stroke="#ffff00"/>
<rect x="658.70" y="251.58" width="12.43" height="10.72" fill="#ffeb00" stroke="#ffeb00"/>
<rect x="671.13" y="251.58" width="24.85" height="10.72" fill="#ffff00" stroke="#ffff00"/>
<rect x="708.41" y="251.58" width="37.28" height="10.72" fill="#ffff00" stroke="#ffff00"/>
<rect x="136.78" y="262.30" width="12.43" height="10.72" fill="#ffeb00" stroke="#ffeb00"/>
<rect x="149.21" y="262.30" width="12.43" height="10.72" fill="#ffff00" stroke="#ffff00"/>
<rect x="174.06" y="262.30" width="12.43" height="10.72" fill="#ffff00" stroke="#ffff00"/>
<rect x="186.49" y="262.30" width="49.71" height="10.72" fill="#ffeb00" stroke="#ffeb00"/>
<rect x="236.19" y="262.30" width="86.99" height="10.72" fill="#ffc000" stroke="#ffc000"/>
<rect x="323.18" y="262.30" width="12.43" height="10.72" fill="#ffd600" stroke="#ffd600"/>
<rect x="335.61" y="262.30" width="12.43" height="10.72" fill="#ffc000" stroke="#ffc000"/>
<rect x="348.03" y="262.30" width="12.43" height="10.72" fill="#ffac00" stroke="#ffac00"/>
<rect x="360.46" y="262.30" width="12.43" height="10.72" fill="#ff9800" stroke="#ff9800"/>
<rect x="372.89" y="262.30" width="12.43" height="10.72" fill="#ff8000" stroke="#ff8000"/>
<rect x="385.31" y="262.30" width="12.43" height="10.72" fill="#fe6400" stroke="#fe6400"/>
<rect x="397.74" y="262.30" width="12.43" height="10.72" fill="#fa4400" stroke="#fa4400"/>
<rect x="410.17" y="262.30" width="12.43" height="10.72" fill="#d70a00" stroke="#d70a00"/>
<rect x="422.59" y="262.30" width="12.43" height="10.72" fill="#c00500" stroke="#c00500"/>
<rect x="435.02" y="262.30" width="12.43" height="10.72" fill="#d70a00" stroke="#d70a00"/>
<rect x="447.45" y="262.30" width="12.43" height="10.72" fill="#fa4400" stroke="#fa4400"/>
<rect x="459.87" y="262.30" width="12.43" height="10.72" fill="#ff8000" stroke="#ff8000"/>
<rect x="472.30" y="262.30" width="12.43" height="10.72" fill="#ff9800" stroke="#ff9800"/>
<rect x="484.73" y="262.30" width="37.28" height="10.72" fill="#ffac00" stroke="#ffac00"/>
<rect x="522.01" y="262.30" width="24.85" height="10.72" fill="#ffc000" stroke="#ffc000"/>
<rect x="546.86" y="262.30" width="12.43" height="10.72" fill="#ffd600" stroke="#ffd600"/>
<rect x="559.29" y="262.30" width="12.43" height="10.72" fill="#ffff00" stroke="#ffff00"/>
<rect x="571.71" y="262.30" width="12.43" height="10.72" fill="#ffd600" stroke="#ffd600"/>
<rect x="596.57" y="262.30" width="12.43" height="10.72" fill="#ffeb00" stroke="#ffeb00"/>
<rect x="608.99" y="262.30" width="24.85" height="10.72" fill="#ffff00" stroke="#ffff00"/>
<rect x="633.85" y="262.30" width="12.43" height="10.72" fill="#ffeb00" stroke="#ffeb00"/>
<rect x="646.27" y="262.30" width="12.43" height="10.72" fill="#ffff00" stroke="#ffff00"/>
<rect x="658.70" y="262.30" width="12.43" height="10.72" fill="#ffeb00" stroke="#ffeb00"/>
<rect x="708.41" y="262.30" width="24.85" height="10.72" fill="#ffff00" stroke="#ffff00"/>
<rect x="136.78" y="273.02" width="12.43" height="10.72" fill="#ffff00" stroke="#ffff00"/>
<rect x="186.49" y="273.02" width="12.43" height="10.72" fill="#ffd600" stroke="#ffd600"/>
<rect x="198.91" y="273.02" width="12.43" height="10.72" fill="#ffeb00" stroke="#ffeb00"/>
<rect x="211.34" y="273.02" width="12.43" height="10.72" fill="#ffd600" stroke="#ffd600"/>
<rect x="223.77" y="273.02" width="24.85" height="10.72" fill="#ffeb00" stroke="#ffeb00"/>
<rect x="248.62" y="273.02" width="12.43" height="10.72" fill="#ffd600" stroke="#ffd600"/>
<rect x="261.05" y="273.02" width="12.43" height="10.72" fill="#ffc000" stroke="#ffc000"/>
<rect x="273.47" y="273.02" width="24.85" height="10.72" fill="#ffac00" stroke="#ffac00"/>
<rect x="298.33" y="273.02" width="62.13" height="10.72" fill="#ffc000" stroke="#ffc000"/>
<rect x="360.46" y="273.02" width="12.43" height="10.72" fill="#ffac00" stroke="#ffac00"/>
<rect x="372.89" y="273.02" width="12.43" height="10.72" fill="#ff9800" stroke="#ff9800"/>
<rect x="385.31" y="273.02" width="12.43" height="10.72" fill="#fe6400" stroke="#fe6400"/>
<rect x="397.74" y="273.02" width="12.43" height="10.72" fill="#ee1c08" stroke="#ee1c08"/>
<rect x="410.17" y="273.02" width="12.43" height="10.72" fill="#d70a00" stroke="#d70a00"/>
<rect x="422.59" y="273.02" width="12.43" height="10.72" fill="#680000" stroke="#680000"/>
<rect x="435.02" y="273.02" width="12.43" height="10.72" fill="#960000" stroke="#960000"/>
<rect x="447.45" y="273.02" width="12.43" height="10.72" fill="#d70a00" stroke="#d70a00"/>
<rect x="459.87" y="273.02" width="12.43" height="10.72" fill="#fa4400" stroke="#fa4400"/>
<rect x="472.30" y="273.02" width="12.43" height="10.72" fill="#ff8000" stroke="#ff8000"/>
<rect x="484.73" y="273.02" width="12.43" height="10.72" fill="#ff9800" stroke="#ff9800"/>
<rect x="497.15" y="273.02" width="12.43" height="10.72" fill="#ffac00" stroke="#ffac00"/>
<rect x="509.58" y="273.02" width="24.85" height="10.72" fill="#ffc000" stroke="#ffc000"/>
<rect x="534.43" y="273.02" width="12.43" height="10.72" fill="#ffd600" stroke="#ffd600"/>
<rect x="546.86" y="273.02" width="37.28" height="10.72" fill="#ffeb00" stroke="#ffeb00"/>
<rect x="584.14" y="273.02" width="12.43" height="10.72" fill="#ffff00" stroke="#ffff00"/>
<rect x="608.99" y="273.02" width="37.28" height="10.72" fill="#ffeb00" stroke="#ffeb00"/>
<rect x="646.27" y="273.02" width="49.71" height="10.72" fill="#ffff00" stroke="#ffff00"/>
<rect x="708.41" y="273.02" width="24.85" height="10.72" fill="#ffff00" stroke="#ffff00"/>
<rect x="99.50" y="283.74" width="12.43" height="10.72" fill="#ffff00" stroke="#ffff00"/>
<rect x="124.35" y="283.74" width="12.43" height="10.72" fill="#ffff00" stroke="#ffff00"/>
<rect x="161.63" y="283.74" width="24.85" height="10.72" fill="#ffff00" stroke="#ffff00"/>
<rect x="186.49" y="283.74" width="37.28" height="10.72" fill="#ffeb00" stroke="#ffeb00"/>
<rect x="223.77" y="283.74" width="12.43" height="10.72" fill="#ffff00" stroke="#ffff00"/>
<rect x="236.19" y="283.74" width="12.43" height="10.72" fill="#ffeb00" stroke="#ffeb00"/>
<rect x="248.62" y="283.74" width="12.43" height="10.72" fill="#ffff00" stroke="#ffff00"/>
<rect x="261.05" y="283.74" width="12.43" height="10.72" fill="#ffd600" stroke="#ffd600"/>
<rect x="273.47" y="283.74" width="62.13" height="10.72" fill="#ffc000" stroke="#ffc000"/>
<rect x="335.61" y="283.74" width="37.28" height="10.72" fill="#ffac00" stroke="#ffac00"/>
<rect x="372.89" y="283.74" width="12.43" height="10.72" fill="#ff9800" stroke="#ff9800"/>
<rect x="385.31" y="283.74" width="12.43" height="10.72" fill="#ff8000" stroke="#ff8000"/>
<rect x="397.74" y="283.74" width="12.43" height="10.72" fill="#fa4400" stroke="#fa4400"/>
<rect x="410.17" y="283.74" width="12.43" height="10.72" fill="#d70a00" stroke="#d70a00"/>
<rect x="422.59" y="283.74" width="24.85" height="10.72" fill="#c00500" stroke="#c00500"/>
<rect x="447.45" y="283.74" width="12.43" height="10.72" fill="#ee1c08" stroke="#ee1c08"/>
<rect x="459.87" y="283.74" width="12.43" height="10.72" fill="#fa4400" stroke="#fa4400"/>
<rect x="472.30" y="283.74" width="12.43" height="10.72" fill="#ff8000" stroke="#ff8000"/>
<rect x="484.73" y="283.74" width="12.43" height="10.72" fill="#ff9800" stroke="#ff9800"/>
<rect x="497.15" y="283.74" width="12.43" height="10.72" fill="#ffac00" stroke="#ffac00"/>
<rect x="509.58" y="283.74" width="37.28" height="10.72" fill="#ffc000" stroke="#ffc000"/>
<rect x="546.86" y="283.74" width="12.43" height="10.72" fill="#ffeb00" stroke="#ffeb00"/>
<rect x="559.29" y="283.74" width="24.85" height="10.72" fill="#ffff00" stroke="#ffff00"/>
<rect x="633.85" y="283.74" width="12.43" height="10.72" fill="#ffd600" stroke="#ffd600"/>
<rect x="111.93" y="294.46" width="12.43" height="10.72" fill="#ffff00" stroke="#ffff00"/>
<rect x="161.63" y="294.46" width="12.43" height="10.72" fill="#ffeb00" stroke="#ffeb00"/>
<rect x="174.06" y="294.46" width="24.85" height="10.72" fill="#ffff00" stroke="#ffff00"/>
<rect x="211.34" y="294.46" width="12.43" height="10.72" fill="#ffeb00" stroke="#ffeb00"/>
<rect x="223.77" y="294.46" width="12.43" height="10.72" fill="#ffff00" stroke="#ffff00"/>
<rect x="248.62" y="294.46" width="12.43" height="10.72" fill="#ffc000" stroke="#ffc000"/>
<rect x="261.05" y="294.46" width="12.43" height="10.72" fill="#ffd600" stroke="#ffd600"/>
<rect x="273.47" y="294.46" width="37.28" height="10.72" fill="#ffc000" stroke="#ffc000"/>
<rect x="310.75" y="294.46" width="12.43" height="10.72" fill="#ffac00" stroke="#ffac00"/>
<rect x="323.18" y="294.46" width="37.28" height="10.72" fill="#ffc000" stroke="#ffc000"/>
<rect x="360.46" y="294.46" width="24.85" height="10.72" fill="#ffac00" stroke="#ffac00"/>
<rect x="385.31" y="294.46" width="24.85" height="10.72" fill="#ff8000" stroke="#ff8000"/>
<rect x="410.17" y="294.46" width="12.43" height="10.72" fill="#fa4400" stroke="#fa4400"/>
<rect x="422.59" y="294.46" width="12.43" height="10.72" fill="#ee1c08" stroke="#ee1c08"/>
<rect x="435.02" y="294.46" width="24.85" height="10.72" fill="#fa4400" stroke="#fa4400"/>
<rect x="459.87" y="294.46" width="12.43" height="10.72" fill="#fe6400" stroke="#fe6400"/>
<rect x="472.30" y="294.46" width="12.43" height="10.72" fill="#ff8000" stroke="#ff8000"/>
<rect x="484.73" y="294.46" width="24.85" height="10.72" fill="#ff9800" stroke="#ff9800"/>
<rect x="509.58" y="294.46" width="24.85" height="10.72" fill="#ffac00" stroke="#ffac00"/>
<rect x="534.43" y="294.46" width="12.43" height="10.72" fill="#ffc000" stroke="#ffc000"/>
<rect x="546.86" y="294.46" width="24.85" height="10.72" fill="#ffeb00" stroke="#ffeb00"/>
<rect x="571.71" y="294.46" width="12.43" height="10.72" fill="#ffd600" stroke="#ffd600"/>
<rect x="584.14" y="294.46" width="12.43" height="10.72" fill="#ffeb00" stroke="#ffeb00"/>
<rect x="608.99" y="294.46" width="24.85" height="10.72" fill="#ffff00" stroke="#ffff00"/>
<rect x="633.85" y="294.46" width="12.43" height="10.72" fill="#ffeb00" stroke="#ffeb00"/>
<rect x="708.41" y="294.46" width="12.43" height="10.72" fill="#ffff00" stroke="#ffff00"/>
<rect x="733.26" y="294.46" width="12.43" height="10.72" fill="#ffeb00" stroke="#ffeb00"/>
<rect x="99.50" y="305.18" width="12.43" height="10.72" fill="#ffff00" stroke="#ffff00"/>
<rect x="161.63" y="305.18" width="12.43" height="10.72" fill="#ffff00" stroke="#ffff00"/>
<rect x="186.49" y="305.18" width="12.43" height="10.72" fill="#ffff00" stroke="#ffff00"/>
<rect x="198.91" y="305.18" width="12.43" height="10.72" fill="#ffeb00" stroke="#ffeb00"/>
<rect x="211.34" y="305.18" width="12.43" height="10.72" fill="#ffd600" stroke="#ffd600"/>
<rect x="223.77" y="305.18" width="24.85" height="10.72" fill="#ffeb00" stroke="#ffeb00"/>
<rect x="248.62" y="305.18" width="37.28" height="10.72" fill="#ffd600" stroke="#ffd600"/>
<rect x="285.90" y="305.18" width="12.43" height="10.72" fill="#ffc000" stroke="#ffc000"/>
<rect x="298.33" y="305.18" width="12.43" height="10.72" fill="#ffd600" stroke="#ffd600"/>
<rect x="310.75" y="305.18" width="12.43" height="10.72" fill="#ffc000" stroke="#ffc000"/>
<rect x="323.18" y="305.18" width="12.43" height="10.72" fill="#ffd600" stroke="#ffd600"/>
<rect x="335.61" y="305.18" width="37.28" height="10.72" fill="#ffc000" stroke="#ffc000"/>
<rect x="372.89" y="305.18" width="24.85" height="10.72" fill="#ffac00" stroke="#ffac00"/>
<rect x="397.74" y="305.18" width="12.43" height="10.72" fill="#ff9800" stroke="#ff9800"/>
<rect x="410.17" y="305.18" width="12.43" height="10.72" fill="#ff8000" stroke="#ff8000"/>
<rect x="422.59" y="305.18" width="12.43" height="10.72" fill="#fe6400" stroke="#fe6400"/>
<rect x="435.02" y="305.18" width="12.43" height="10.72" fill="#fa4400" stroke="#fa4400"/>
<rect x="447.45" y="305.18" width="24.85" height="10.72" fill="#fe6400" stroke="#fe6400"/>
<rect x="472.30" y="305.18" width="24.85" height="10.72" fill="#ff8000" stroke="#ff8000"/>
<rect x="497.15" y="305.18" width="24.85" height="10.72" fill="#ffac00" stroke="#ffac00"/>
<rect x="522.01" y="305.18" width="24.85" height="10.72" fill="#ffc000" stroke="#ffc000"/>
<rect x="546.86" y="305.18" width="12.43" height="10.72" fill="#ffd600" stroke="#ffd600"/>
<rect x="571.71" y="305.18" width="37.28" height="10.72" fill="#ffeb00" stroke="#ffeb00"/>
<rect x="608.99" y="305.18" width="24.85" height="10.72" fill="#ffff00" stroke="#ffff00"/>
<rect x="633.85" y="305.18" width="12.43" height="10.72" fill="#ffeb00" stroke="#ffeb00"/>
<rect x="646.27" y="305.18" width="12.43" height="10.72" fill="#ffff00" stroke="#ffff00"/>
<rect x="658.70" y="305.18" width="24.85" height="10.72" fill="#ffeb00" stroke="#ffeb00"/>
<rect x="683.55" y="305.18" width="12.43" height="10.72" fill="#ffff00" stroke="#ffff00"/>
<rect x="99.50" y="315.90" width="24.85" height="10.72" fill="#ffff00" stroke="#ffff00"/>
<rect x="124.35" y="315.90" width="12.43" height="10.72" fill="#ffeb00" stroke="#ffeb00"/>
<rect x="149.21" y="315.90" width="12.43" height="10.72" fill="#ffff00" stroke="#ffff00"/>
<rect x="186.49" y="315.90" width="49.71" height="10.72" fill="#ffeb00" stroke="#ffeb00"/>
<rect x="236.19" y="315.90" width="12.43" height="10.72" fill="#ffd600" stroke="#ffd600"/>
<rect x="248.62" y="315.90" width="12.43" height="10.72" fill="#ffeb00" stroke="#ffeb00"/>
<rect x="261.05" y="315.90" width="37.28" height="10.72" fill="#ffd600" stroke="#ffd600"/>
<rect x="298.33" y="315.90" width="12.43" height="10.72" fill="#ffff00" stroke="#ffff00"/>
<rect x="310.75" y="315.90" width="12.43" height="10.72" fill="#ffd600" stroke="#ffd600"/>
<rect x="323.18" y="315.90" width="12.43" height="10.72" fill="#ffc000" stroke="#ffc000"/>
<rect x="335.61" y="315.90" width="12.43" height="10.72" fill="#ffd600" stroke="#ffd600"/>
<rect x="348.03" y="315.90" width="37.28" height="10.72" fill="#ffc000" stroke="#ffc000"/>
<rect x="385.31" y="315.90" width="24.85" height="10.72" fill="#ffac00" stroke="#ffac00"/>
<rect x="410.17" y="315.90" width="12.43" height="10.72" fill="#ff9800" stroke="#ff9800"/>
<rect x="422.59" y="315.90" width="12.43" height="10.72" fill="#ff8000" stroke="#ff8000"/>
<rect x="435.02" y="315.90" width="12.43" height="10.72" fill="#fe6400" stroke="#fe6400"/>
<rect x="447.45" y="315.90" width="12.43" height="10.72" fill="#fa4400" stroke="#fa4400"/>
<rect x="459.87" y="315.90" width="24.85" height="10.72" fill="#fe6400" stroke="#fe6400"/>
<rect x="484.73" y="315.90" width="12.43" height="10.72" fill="#ff8000" stroke="#ff8000"/>
<rect x="497.15" y="315.90" width="12.43" height="10.72" fill="#ff9800" stroke="#ff9800"/>
<rect x="509.58" y="315.90" width="12.43" height="10.72" fill="#ffac00" stroke="#ffac00"/>
<rect x="522.01" y="315.90" width="12.43" height="10.72" fill="#ffc000" stroke="#ffc000"/>
<rect x="534.43" y="315.90" width="12.43" height="10.72" fill="#ffac00" stroke="#ffac00"/>
<rect x="546.86" y="315.90" width="12.43" height="10.72" fill="#ffeb00" stroke="#ffeb00"/>
<rect x="559.29" y="315.90" width="37.28" height="10.72" fill="#ffd600" stroke="#ffd600"/>
<rect x="621.42" y="315.90" width="12.43" height="10.72" fill="#ffeb00" stroke="#ffeb00"/>
<rect x="646.27" y="315.90" width="24.85" height="10.72" fill="#ffff00" stroke="#ffff00"/>
<rect x="671.13" y="315.90" width="24.85" height="10.72" fill="#ffeb00" stroke="#ffeb00"/>
<rect x="733.26" y="315.90" width="12.43" height="10.72" fill="#ffff00" stroke="#ffff00"/>
<rect x="111.93" y="326.62" width="12.43" height="10.72" fill="#ffff00" stroke="#ffff00"/>
<rect x="136.78" y="326.62" width="24.85" height="10.72" fill="#ffff00" stroke="#ffff00"/>
<rect x="198.91" y="326.62" width="12.43" height="10.72" fill="#ffeb00" stroke="#ffeb00"/>
<rect x="211.34" y="326.62" width="24.85" height="10.72" fill="#ffff00" stroke="#ffff00"/>
<rect x="236.19" y="326.62" width="12.43" height="10.72" fill="#ffeb00" stroke="#ffeb00"/>
<rect x="261.05" y="326.62" width="37.28" height="10.72" fill="#ffd600" stroke="#ffd600"/>
<rect x="298.33" y="326.62" width="12.43" height="10.72" fill="#ffeb00" stroke="#ffeb00"/>
<rect x="310.75" y="326.62" width="24.85" height="10.72" fill="#ffd600" stroke="#ffd600"/>
<rect x="335.61" y="326.62" width="12.43" height="10.72" fill="#ffeb00" stroke="#ffeb00"/>
<rect x="348.03" y="326.62" width="12.43" height="10.72" fill="#ffac00" stroke="#ffac00"/>
<rect x="360.46" y="326.62" width="12.43" height="10.72" fill="#ffc000" stroke="#ffc000"/>
<rect x="372.89" y="326.62" width="12.43" height="10.72" fill="#ffd600" stroke="#ffd600"/>
<rect x="385.31" y="326.62" width="24.85" height="10.72" fill="#ffc000" stroke="#ffc000"/>
<rect x="410.17" y="326.62" width="12.43" height="10.72" fill="#ffac00" stroke="#ffac00"/>
<rect x="422.59" y="326.62" width="12.43" height="10.72" fill="#ff9800" stroke="#ff9800"/>
<rect x="435.02" y="326.62" width="12.43" height="10.72" fill="#ff8000" stroke="#ff8000"/>
<rect x="447.45" y="326.62" width="12.43" height="10.72" fill="#fe6400" stroke="#fe6400"/>
<rect x="459.87" y="326.62" width="12.43" height="10.72" fill="#fa4400" stroke="#fa4400"/>
<rect x="472.30" y="326.62" width="12.43" height="10.72" fill="#fe6400" stroke="#fe6400"/>
<rect x="484.73" y="326.62" width="12.43" height="10.72" fill="#ff8000" stroke="#ff8000"/>
<rect x="497.15" y="326.62" width="12.43" height="10.72" fill="#ff9800" stroke="#ff9800"/>
<rect x="509.58" y="326.62" width="12.43" height="10.72" fill="#ffac00" stroke="#ffac00"/>
<rect x="522.01" y="326.62" width="12.43" height="10.72" fill="#ffc000" stroke="#ffc000"/>
<rect x="534.43" y="326.62" width="12.43" height="10.72" fill="#ffac00" stroke="#ffac00"/>
<rect x="546.86" y="326.62" width="12.43" height="10.72" fill="#ffd600" stroke="#ffd600"/>
<rect x="559.29" y="326.62" width="12.43" height="10.72" fill="#ffff00" stroke="#ffff00"/>
<rect x="571.71" y="326.62" width="24.85" height="10.72" fill="#ffeb00" stroke="#ffeb00"/>
<rect x="596.57" y="326.62" width="12.43" height="10.72" fill="#ffff00" stroke="#ffff00"/>
<rect x="608.99" y="326.62" width="12.43" height="10.72" fill="#ffeb00" stroke="#ffeb00"/>
<rect x="621.42" y="326.62" width="12.43" height="10.72" fill="#ffff00" stroke="#ffff00"/>
<rect x="633.85" y="326.62" width="12.43" height="10.72" fill="#ffeb00" stroke="#ffeb00"/>
<rect x="646.27" y="326.62" width="12.43" height="10.72" fill="#ffff00" stroke="#ffff00"/>
<rect x="658.70" y="326.62" width="12.43" height="10.72" fill="#ffeb00" stroke="#ffeb00"/>
<rect x="683.55" y="326.62" width="12.43" height="10.72" fill="#ffff00" stroke="#ffff00"/>
<rect x="708.41" y="326.62" width="12.43" height="10.72" fill="#ffff00" stroke="#ffff00"/>
<rect x="149.21" y="337.34" width="12.43" height="10.72" fill="#ffff00" stroke="#ffff00"/>
<rect x="198.91" y="337.34" width="12.43" height="10.72" fill="#ffff00" stroke="#ffff00"/>
<rect x="211.34" y="337.34" width="37.28" height="10.72" fill="#ffeb00" stroke="#ffeb00"/>
<rect x="248.62" y="337.34" width="12.43" height="10.72" fill="#ffff00" stroke="#ffff00"/>
<rect x="273.47" y="337.34" width="37.28" height="10.72" fill="#ffeb00" stroke="#ffeb00"/>
<rect x="310.75" y="337.34" width="49.71" height="10.72" fill="#ffd600" stroke="#ffd600"/>
<rect x="360.46" y="337.34" width="49.71" height="10.72" fill="#ffc000" stroke="#ffc000"/>
<rect x="410.17" y="337.34" width="24.85" height="10.72" fill="#ffac00" stroke="#ffac00"/>
<rect x="435.02" y="337.34" width="12.43" height="10.72" fill="#ff9800" stroke="#ff9800"/>
<rect x="447.45" y="337.34" width="12.43" height="10.72" fill="#ff8000" stroke="#ff8000"/>
<rect x="459.87" y="337.34" width="12.43" height="10.72" fill="#fe6400" stroke="#fe6400"/>
<rect x="472.30" y="337.34" width="12.43" height="10.72" fill="#fa4400" stroke="#fa4400"/>
<rect x="484.73" y="337.34" width="12.43" height="10.72" fill="#ff8000" stroke="#ff8000"/>
<rect x="497.15" y="337.34" width="12.43" height="10.72" fill="#ff9800" stroke="#ff9800"/>
<rect x="509.58" y="337.34" width="12.43" height="10.72" fill="#ffac00" stroke="#ffac00"/>
<rect x="522.01" y="337.34" width="12.43" height="10.72" fill="#ffc000" stroke="#ffc000"/>
<rect x="534.43" y="337.34" width="24.85" height="10.72" fill="#ffd600" stroke="#ffd600"/>
<rect x="559.29" y="337.34" width="24.85" height="10.72" fill="#ffeb00" stroke="#ffeb00"/>
<rect x="584.14" y="337.34" width="12.43" height="10.72" fill="#ffff00" stroke="#ffff00"/>
<rect x="596.57" y="337.34" width="12.43" height="10.72" fill="#ffeb00" stroke="#ffeb00"/>
<rect x="608.99" y="337.34" width="37.28" height="10.72" fill="#ffff00" stroke="#ffff00"/>
<rect x="646.27" y="337.34" width="24.85" height="10.72" fill="#ffeb00" stroke="#ffeb00"/>
<rect x="671.13" y="337.34" width="12.43" height="10.72" fill="#ffff00" stroke="#ffff00"/>
<rect x="149.21" y="348.06" width="12.43" height="10.72" fill="#ffeb00" stroke="#ffeb00"/>
<rect x="161.63" y="348.06" width="12.43" height="10.72" fill="#ffff00" stroke="#ffff00"/>
<rect x="186.49" y="348.06" width="24.85" height="10.72" fill="#ffeb00" stroke="#ffeb00"/>
<rect x="223.77" y="348.06" width="49.71" height="10.72" fill="#ffff00" stroke="#ffff00"/>
<rect x="273.47" y="348.06" width="12.43" height="10.72" fill="#ffeb00" stroke="#ffeb00"/>
<rect x="298.33" y="348.06" width="12.43" height="10.72" fill="#ffeb00" stroke="#ffeb00"/>
<rect x="310.75" y="348.06" width="12.43" height="10.72" fill="#ffd600" stroke="#ffd600"/>
<rect x="323.18" y="348.06" width="24.85" height="10.72" fill="#ffeb00" stroke="#ffeb00"/>
<rect x="348.03" y="348.06" width="24.85" height="10.72" fill="#ffd600" stroke="#ffd600"/>
<rect x="372.89" y="348.06" width="49.71" height="10.72" fill="#ffc000" stroke="#ffc000"/>
<rect x="422.59" y="348.06" width="12.43" height="10.72" fill="#ffac00" stroke="#ffac00"/>
<rect x="435.02" y="348.06" width="24.85" height="10.72" fill="#ff9800" stroke="#ff9800"/>
<rect x="459.87" y="348.06" width="12.43" height="10.72" fill="#ff8000" stroke="#ff8000"/>
<rect x="472.30" y="348.06" width="24.85" height="10.72" fill="#fe6400" stroke="#fe6400"/>
<rect x="497.15" y="348.06" width="12.43" height="10.72" fill="#ff8000" stroke="#ff8000"/>
<rect x="509.58" y="348.06" width="12.43" height="10.72" fill="#ffac00" stroke="#ffac00"/>
<rect x="522.01" y="348.06" width="12.43" height="10.72" fill="#ffc000" stroke="#ffc000"/>
<rect x="534.43" y="348.06" width="12.43" height="10.72" fill="#ffd600" stroke="#ffd600"/>
<rect x="546.86" y="348.06" width="12.43" height="10.72" fill="#ffeb00" stroke="#ffeb00"/>
<rect x="559.29" y="348.06" width="12.43" height="10.72" fill="#ffd600" stroke="#ffd600"/>
<rect x="571.71" y="348.06" width="12.43" height="10.72" fill="#ffeb00" stroke="#ffeb00"/>
<rect x="584.14" y="348.06" width="12.43" height="10.72" fill="#ffac00" stroke="#ffac00"/>
<rect x="596.57" y="348.06" width="24.85" height="10.72" fill="#ffeb00" stroke="#ffeb00"/>
<rect x="621.42" y="348.06" width="12.43" height="10.72" fill="#ffff00" stroke="#ffff00"/>
<rect x="633.85" y="348.06" width="37.28" height="10.72" fill="#ffeb00" stroke="#ffeb00"/>
<rect x="671.13" y="348.06" width="12.43" height="10.72" fill="#ffff00" stroke="#ffff00"/>
<rect x="683.55" y="348.06" width="12.43" height="10.72" fill="#ffeb00" stroke="#ffeb00"/>
<rect x="695.98" y="348.06" width="37.28" height="10.72" fill="#ffff00" stroke="#ffff00"/>
<rect x="124.35" y="358.78" width="12.43" height="10.72" fill="#ffff00" stroke="#ffff00"/>
<rect x="136.78" y="358.78" width="12.43" height="10.72" fill="#ffeb00" stroke="#ffeb00"/>
<rect x="174.06" y="358.78" width="12.43" height="10.72" fill="#ffeb00" stroke="#ffeb00"/>
<rect x="186.49" y="358.78" width="12.43" height="10.72" fill="#ffff00" stroke="#ffff00"/>
<rect x="223.77" y="358.78" width="12.43" height="10.72" fill="#ffff00" stroke="#ffff00"/>
<rect x="248.62" y="358.78" width="12.43" height="10.72" fill="#ffeb00" stroke="#ffeb00"/>
<rect x="261.05" y="358.78" width="12.43" height="10.72" fill="#ffff00" stroke="#ffff00"/>
<rect x="273.47" y="358.78" width="12.43" height="10.72" fill="#ffeb00" stroke="#ffeb00"/>
<rect x="310.75" y="358.78" width="12.43" height="10.72" fill="#ffeb00" stroke="#ffeb00"/>
<rect x="335.61" y="358.78" width="37.28" height="10.72" fill="#ffeb00" stroke="#ffeb00"/>
<rect x="372.89" y="358.78" width="12.43" height="10.72" fill="#ffff00" stroke="#ffff00"/>
<rect x="385.31" y="358.78" width="24.85" height="10.72" fill="#ffd600" stroke="#ffd600"/>
<rect x="410.17" y="358.78" width="12.43" height="10.72" fill="#ffeb00" stroke="#ffeb00"/>
<rect x="422.59" y="358.78" width="12.43" height="10.72" fill="#ffd600" stroke="#ffd600"/>
<rect x="435.02" y="358.78" width="12.43" height="10.72" fill="#ffeb00" stroke="#ffeb00"/>
<rect x="447.45" y="358.78" width="12.43" height="10.72" fill="#ffc000" stroke="#ffc000"/>
<rect x="459.87" y="358.78" width="12.43" height="10.72" fill="#ff9800" stroke="#ff9800"/>
<rect x="472.30" y="358.78" width="12.43" height="10.72" fill="#ff8000" stroke="#ff8000"/>
<rect x="484.73" y="358.78" width="12.43" height="10.72" fill="#fe6400" stroke="#fe6400"/>
<rect x="497.15" y="358.78" width="24.85" height="10.72" fill="#ff8000" stroke="#ff8000"/>
<rect x="522.01" y="358.78" width="12.43" height="10.72" fill="#ffac00" stroke="#ffac00"/>
<rect x="534.43" y="358.78" width="37.28" height="10.72" fill="#ffc000" stroke="#ffc000"/>
<rect x="571.71" y="358.78" width="12.43" height="10.72" fill="#ffeb00" stroke="#ffeb00"/>
<rect x="584.14" y="358.78" width="12.43" height="10.72" fill="#ffd600" stroke="#ffd600"/>
<rect x="608.99" y="358.78" width="24.85" height="10.72" fill="#ffeb00" stroke="#ffeb00"/>
<rect x="646.27" y="358.78" width="12.43" height="10.72" fill="#ffeb00" stroke="#ffeb00"/>
<rect x="695.98" y="358.78" width="12.43" height="10.72" fill="#ffff00" stroke="#ffff00"/>
<rect x="124.35" y="369.50" width="12.43" height="10.72" fill="#ffeb00" stroke="#ffeb00"/>
<rect x="174.06" y="369.50" width="12.43" height="10.72" fill="#ffff00" stroke="#ffff00"/>
<rect x="211.34" y="369.50" width="12.43" height="10.72" fill="#ffff00" stroke="#ffff00"/>
<rect x="236.19" y="369.50" width="24.85" height="10.72" fill="#ffff00" stroke="#ffff00"/>
<rect x="273.47" y="369.50" width="12.43" height="10.72" fill="#ffeb00" stroke="#ffeb00"/>
<rect x="298.33" y="369.50" width="12.43" height="10.72" fill="#ffeb00" stroke="#ffeb00"/>
<rect x="310.75" y="369.50" width="12.43" height="10.72" fill="#ffd600" stroke="#ffd600"/>
<rect x="323.18" y="369.50" width="12.43" height="10.72" fill="#ffff00" stroke="#ffff00"/>
<rect x="335.61" y="369.50" width="24.85" height="10.72" fill="#ffeb00" stroke="#ffeb00"/>
<rect x="360.46" y="369.50" width="12.43" height="10.72" fill="#ffff00" stroke="#ffff00"/>
<rect x="372.89" y="369.50" width="24.85" height="10.72" fill="#ffeb00" stroke="#ffeb00"/>
<rect x="397.74" y="369.50" width="12.43" height="10.72" fill="#ffff00" stroke="#ffff00"/>
<rect x="410.17" y="369.50" width="37.28" height="10.72" fill="#ffd600" stroke="#ffd600"/>
<rect x="447.45" y="369.50" width="12.43" height="10.72" fill="#ffc000" stroke="#ffc000"/>
<rect x="459.87" y="369.50" width="12.43" height="10.72" fill="#ffac00" stroke="#ffac00"/>
<rect x="472.30" y="369.50" width="49.71" height="10.72" fill="#ff8000" stroke="#ff8000"/>
<rect x="522.01" y="369.50" width="12.43" height="10.72" fill="#ff9800" stroke="#ff9800"/>
<rect x="534.43" y="369.50" width="12.43" height="10.72" fill="#ffac00" stroke="#ffac00"/>
<rect x="546.86" y="369.50" width="12.43" height="10.72" fill="#ffc000" stroke="#ffc000"/>
<rect x="559.29" y="369.50" width="12.43" height="10.72" fill="#ffeb00" stroke="#ffeb00"/>
<rect x="571.71" y="369.50" width="12.43" height="10.72" fill="#ffd600" stroke="#ffd600"/>
<rect x="584.14" y="369.50" width="12.43" height="10.72" fill="#ffeb00" stroke="#ffeb00"/>
<rect x="608.99" y="369.50" width="12.43" height="10.72" fill="#ffeb00" stroke="#ffeb00"/>
<rect x="621.42" y="369.50" width="24.85" height="10.72" fill="#ffff00" stroke="#ffff00"/>
<rect x="646.27" y="369.50" width="12.43" height="10.72" fill="#ffeb00" stroke="#ffeb00"/>
<rect x="671.13" y="369.50" width="12.43" height="10.72" fill="#ffeb00" stroke="#ffeb00"/>
<rect x="720.84" y="369.50" width="12.43" height="10.72" fill="#ffff00" stroke="#ffff00"/>
<rect x="186.49" y="380.22" width="12.43" height="10.72" fill="#ffeb00" stroke="#ffeb00"/>
<rect x="198.91" y="380.22" width="12.43" height="10.72" fill="#ffff00" stroke="#ffff00"/>
<rect x="211.34" y="380.22" width="24.85" height="10.72" fill="#ffeb00" stroke="#ffeb00"/>
<rect x="236.19" y="380.22" width="12.43" height="10.72" fill="#ffd600" stroke="#ffd600"/>
<rect x="261.05" y="380.22" width="12.43" height="10.72" fill="#ffeb00" stroke="#ffeb00"/>
<rect x="273.47" y="380.22" width="12.43" height="10.72" fill="#ffff00" stroke="#ffff00"/>
<rect x="298.33" y="380.22" width="12.43" height="10.72" fill="#ffd600" stroke="#ffd600"/>
<rect x="310.75" y="380.22" width="12.43" height="10.72" fill="#ffeb00" stroke="#ffeb00"/>
<rect x="323.18" y="380.22" width="12.43" height="10.72" fill="#ffff00" stroke="#ffff00"/>
<rect x="335.61" y="380.22" width="86.99" height="10.72" fill="#ffeb00" stroke="#ffeb00"/>
<rect x="422.59" y="380.22" width="24.85" height="10.72" fill="#ffc000" stroke="#ffc000"/>
<rect x="447.45" y="380.22" width="12.43" height="10.72" fill="#ffd600" stroke="#ffd600"/>
<rect x="459.87" y="380.22" width="12.43" height="10.72" fill="#ffc000" stroke="#ffc000"/>
<rect x="472.30" y="380.22" width="12.43" height="10.72" fill="#ffac00" stroke="#ffac00"/>
<rect x="484.73" y="380.22" width="24.85" height="10.72" fill="#ff9800" stroke="#ff9800"/>
<rect x="509.58" y="380.22" width="24.85" height="10.72" fill="#ff8000" stroke="#ff8000"/>
<rect x="534.43" y="380.22" width="12.43" height="10.72" fill="#ff9800" stroke="#ff9800"/>
<rect x="546.86" y="380.22" width="12.43" height="10.72" fill="#ffac00" stroke="#ffac00"/>
<rect x="559.29" y="380.22" width="24.85" height="10.72" fill="#ffc000" stroke="#ffc000"/>
<rect x="584.14" y="380.22" width="12.43" height="10.72" fill="#ffd600" stroke="#ffd600"/>
<rect x="608.99" y="380.22" width="24.85" height="10.72" fill="#ffeb00" stroke="#ffeb00"/>
<rect x="633.85" y="380.22" width="12.43" height="10.72" fill="#ffff00" stroke="#ffff00"/>
<rect x="671.13" y="380.22" width="12.43" height="10.72" fill="#ffff00" stroke="#ffff00"/>
<rect x="695.98" y="380.22" width="24.85" height="10.72" fill="#ffff00" stroke="#ffff00"/>
<rect x="198.91" y="390.94" width="37.28" height="10.72" fill="#ffff00" stroke="#ffff00"/>
<rect x="236.19" y="390.94" width="24.85" height="10.72" fill="#ffeb00" stroke="#ffeb00"/>
<rect x="285.90" y="390.94" width="12.43" height="10.72" fill="#ffff00" stroke="#ffff00"/>
<rect x="310.75" y="390.94" width="37.28" height="10.72" fill="#ffeb00" stroke="#ffeb00"/>
<rect x="348.03" y="390.94" width="12.43" height="10.72" fill="#ffff00" stroke="#ffff00"/>
<rect x="360.46" y="390.94" width="24.85" height="10.72" fill="#ffeb00" stroke="#ffeb00"/>
<rect x="385.31" y="390.94" width="24.85" height="10.72" fill="#ffd600" stroke="#ffd600"/>
<rect x="410.17" y="390.94" width="12.43" height="10.72" fill="#ffeb00" stroke="#ffeb00"/>
<rect x="422.59" y="390.94" width="24.85" height="10.72" fill="#ffc000" stroke="#ffc000"/>
<rect x="447.45" y="390.94" width="24.85" height="10.72" fill="#ffeb00" stroke="#ffeb00"/>
<rect x="472.30" y="390.94" width="37.28" height="10.72" fill="#ffc000" stroke="#ffc000"/>
<rect x="509.58" y="390.94" width="12.43" height="10.72" fill="#ff9800" stroke="#ff9800"/>
<rect x="522.01" y="390.94" width="24.85" height="10.72" fill="#ff8000" stroke="#ff8000"/>
<rect x="546.86" y="390.94" width="12.43" height="10.72" fill="#ff9800" stroke="#ff9800"/>
<rect x="559.29" y="390.94" width="37.28" height="10.72" fill="#ffc000" stroke="#ffc000"/>
<rect x="596.57" y="390.94" width="12.43" height="10.72" fill="#ffeb00" stroke="#ffeb00"/>
<rect x="608.99" y="390.94" width="12.43" height="10.72" fill="#ffff00" stroke="#ffff00"/>
<rect x="621.42" y="390.94" width="24.85" height="10.72" fill="#ffeb00" stroke="#ffeb00"/>
<rect x="658.70" y="390.94" width="24.85" height="10.72" fill="#ffff00" stroke="#ffff00"/>
<rect x="708.41" y="390.94" width="12.43" height="10.72" fill="#ffff00" stroke="#ffff00"/>
<rect x="186.49" y="401.66" width="12.43" height="10.72" fill="#ffff00" stroke="#ffff00"/>
<rect x="198.91" y="401.66" width="12.43" height="10.72" fill="#ffeb00" stroke="#ffeb00"/>
<rect x="211.34" y="401.66" width="49.71" height="10.72" fill="#ffff00" stroke="#ffff00"/>
<rect x="261.05" y="401.66" width="12.43" height="10.72" fill="#ffeb00" stroke="#ffeb00"/>
<rect x="323.18" y="401.66" width="12.43" height="10.72" fill="#ffeb00" stroke="#ffeb00"/>
<rect x="348.03" y="401.66" width="12.43" height="10.72" fill="#ffeb00" stroke="#ffeb00"/>
<rect x="360.46" y="401.66" width="24.85" height="10.72" fill="#ffff00" stroke="#ffff00"/>
<rect x="385.31" y="401.66" width="12.43" height="10.72" fill="#ffeb00" stroke="#ffeb00"/>
<rect x="397.74" y="401.66" width="24.85" height="10.72" fill="#ffff00" stroke="#ffff00"/>
<rect x="422.59" y="401.66" width="24.85" height="10.72" fill="#ffd600" stroke="#ffd600"/>
<rect x="447.45" y="401.66" width="37.28" height="10.72" fill="#ffeb00" stroke="#ffeb00"/>
<rect x="484.73" y="401.66" width="12.43" height="10.72" fill="#ffd600" stroke="#ffd600"/>
<rect x="497.15" y="401.66" width="24.85" height="10.72" fill="#ffc000" stroke="#ffc000"/>
<rect x="522.01" y="401.66" width="37.28" height="10.72" fill="#ff9800" stroke="#ff9800"/>
<rect x="559.29" y="401.66" width="24.85" height="10.72" fill="#ffc000" stroke="#ffc000"/>
<rect x="584.14" y="401.66" width="12.43" height="10.72" fill="#ffd600" stroke="#ffd600"/>
<rect x="596.57" y="401.66" width="24.85" height="10.72" fill="#ffeb00" stroke="#ffeb00"/>
<rect x="633.85" y="401.66" width="12.43" height="10.72" fill="#ffff00" stroke="#ffff00"/>
<rect x="658.70" y="401.66" width="12.43" height="10.72" fill="#ffff00" stroke="#ffff00"/>
<rect x="683.55" y="401.66" width="37.28" height="10.72" fill="#ffff00" stroke="#ffff00"/>
<rect x="174.06" y="412.38" width="12.43" height="10.72" fill="#ffff00" stroke="#ffff00"/>
<rect x="261.05" y="412.38" width="37.28" height="10.72" fill="#ffff00" stroke="#ffff00"/>
<rect x="323.18" y="412.38" width="12.43" height="10.72" fill="#ffff00" stroke="#ffff00"/>
<rect x="348.03" y="412.38" width="24.85" height="10.72" fill="#ffeb00" stroke="#ffeb00"/>
<rect x="372.89" y="412.38" width="12.43" height="10.72" fill="#ffff00" stroke="#ffff00"/>
<rect x="385.31" y="412.38" width="62.13" height="10.72" fill="#ffeb00" stroke="#ffeb00"/>
<rect x="447.45" y="412.38" width="12.43" height="10.72" fill="#ffd600" stroke="#ffd600"/>
<rect x="459.87" y="412.38" width="12.43" height="10.72" fill="#ffff00" stroke="#ffff00"/>
<rect x="472.30" y="412.38" width="12.43" height="10.72" fill="#ffd600" stroke="#ffd600"/>
<rect x="484.73" y="412.38" width="49.71" height="10.72" fill="#ffc000" stroke="#ffc000"/>
<rect x="534.43" y="412.38" width="37.28" height="10.72" fill="#ff9800" stroke="#ff9800"/>
<rect x="571.71" y="412.38" width="12.43" height="10.72" fill="#ffac00" stroke="#ffac00"/>
<rect x="584.14" y="412.38" width="12.43" height="10.72" fill="#ffc000" stroke="#ffc000"/>
<rect x="596.57" y="412.38" width="12.43" height="10.72" fill="#ffeb00" stroke="#ffeb00"/>
<rect x="608.99" y="412.38" width="12.43" height="10.72" fill="#ffff00" stroke="#ffff00"/>
<rect x="621.42" y="412.38" width="12.43" height="10.72" fill="#ffd600" stroke="#ffd600"/>
<rect x="633.85" y="412.38" width="24.85" height="10.72" fill="#ffeb00" stroke="#ffeb00"/>
<rect x="658.70" y="412.38" width="12.43" height="10.72" fill="#ffff00" stroke="#ffff00"/>
<rect x="695.98" y="412.38" width="12.43" height="10.72" fill="#ffff00" stroke="#ffff00"/>
<rect x="174.06" y="423.10" width="37.28" height="10.72" fill="#ffff00" stroke="#ffff00"/>
<rect x="223.77" y="423.10" width="24.85" height="10.72" fill="#ffff00" stroke="#ffff00"/>
<rect x="261.05" y="423.10" width="12.43" height="10.72" fill="#ffff00" stroke="#ffff00"/>
<rect x="298.33" y="423.10" width="12.43" height="10.72" fill="#ffff00" stroke="#ffff00"/>
<rect x="335.61" y="423.10" width="12.43" height="10.72" fill="#ffeb00" stroke="#ffeb00"/>
<rect x="348.03" y="423.10" width="12.43" height="10.72" fill="#ffff00" stroke="#ffff00"/>
<rect x="372.89" y="423.10" width="12.43" height="10.72" fill="#ffff00" stroke="#ffff00"/>
<rect x="385.31" y="423.10" width="12.43" height="10.72" fill="#ffeb00" stroke="#ffeb00"/>
<rect x="397.74" y="423.10" width="24.85" height="10.72" fill="#ffff00" stroke="#ffff00"/>
<rect x="422.59" y="423.10" width="24.85" height="10.72" fill="#ffeb00" stroke="#ffeb00"/>
<rect x="447.45" y="423.10" width="12.43" height="10.72" fill="#ffd600" stroke="#ffd600"/>
<rect x="459.87" y="423.10" width="12.43" height="10.72" fill="#ffc000" stroke="#ffc000"/>
<rect x="472.30" y="423.10" width="24.85" height="10.72" fill="#ffd600" stroke="#ffd600"/>
<rect x="497.15" y="423.10" width="12.43" height="10.72" fill="#ffff00" stroke="#ffff00"/>
<rect x="509.58" y="423.10" width="24.85" height="10.72" fill="#ffd600" stroke="#ffd600"/>
<rect x="534.43" y="423.10" width="12.43" height="10.72" fill="#ffc000" stroke="#ffc000"/>
<rect x="546.86" y="423.10" width="12.43" height="10.72" fill="#ffac00" stroke="#ffac00"/>
<rect x="559.29" y="423.10" width="24.85" height="10.72" fill="#ff9800" stroke="#ff9800"/>
<rect x="584.14" y="423.10" width="12.43" height="10.72" fill="#ffac00" stroke="#ffac00"/>
<rect x="596.57" y="423.10" width="12.43" height="10.72" fill="#ffc000" stroke="#ffc000"/>
<rect x="608.99" y="423.10" width="12.43" height="10.72" fill="#ffeb00" stroke="#ffeb00"/>
<rect x="621.42" y="423.10" width="12.43" height="10.72" fill="#ffd600" stroke="#ffd600"/>
<rect x="633.85" y="423.10" width="12.43" height="10.72" fill="#ffeb00" stroke="#ffeb00"/>
<rect x="646.27" y="423.10" width="49.71" height="10.72" fill="#ffff00" stroke="#ffff00"/>
<rect x="211.34" y="433.82" width="12.43" height="10.72" fill="#ffff00" stroke="#ffff00"/>
<rect x="236.19" y="433.82" width="12.43" height="10.72" fill="#ffeb00" stroke="#ffeb00"/>
<rect x="285.90" y="433.82" width="12.43" height="10.72" fill="#ffff00" stroke="#ffff00"/>
<rect x="298.33" y="433.82" width="24.85" height="10.72" fill="#ffeb00" stroke="#ffeb00"/>
<rect x="323.18" y="433.82" width="12.43" height="10.72" fill="#ffff00" stroke="#ffff00"/>
<rect x="335.61" y="433.82" width="24.85" height="10.72" fill="#ffeb00" stroke="#ffeb00"/>
<rect x="360.46" y="433.82" width="24.85" height="10.72" fill="#ffff00" stroke="#ffff00"/>
<rect x="397.74" y="433.82" width="12.43" height="10.72" fill="#ffeb00" stroke="#ffeb00"/>
<rect x="422.59" y="433.82" width="12.43" height="10.72" fill="#ffff00" stroke="#ffff00"/>
<rect x="435.02" y="433.82" width="12.43" height="10.72" fill="#ffeb00" stroke="#ffeb00"/>
<rect x="447.45" y="433.82" width="12.43" height="10.72" fill="#ffff00" stroke="#ffff00"/>
<rect x="459.87" y="433.82" width="12.43" height="10.72" fill="#ffeb00" stroke="#ffeb00"/>
<rect x="472.30" y="433.82" width="12.43" height="10.72" fill="#ffd600" stroke="#ffd600"/>
<rect x="484.73" y="433.82" width="24.85" height="10.72" fill="#ffeb00" stroke="#ffeb00"/>
<rect x="509.58" y="433.82" width="12.43" height="10.72" fill="#ffd600" stroke="#ffd600"/>
<rect x="522.01" y="433.82" width="12.43" height="10.72" fill="#ffeb00" stroke="#ffeb00"/>
<rect x="534.43" y="433.82" width="24.85" height="10.72" fill="#ffc000" stroke="#ffc000"/>
<rect x="559.29" y="433.82" width="12.43" height="10.72" fill="#ffac00" stroke="#ffac00"/>
<rect x="571.71" y="433.82" width="24.85" height="10.72" fill="#ff9800" stroke="#ff9800"/>
<rect x="596.57" y="433.82" width="12.43" height="10.72" fill="#ffc000" stroke="#ffc000"/>
<rect x="608.99" y="433.82" width="12.43" height="10.72" fill="#ffeb00" stroke="#ffeb00"/>
<rect x="621.42" y="433.82" width="12.43" height="10.72" fill="#ffd600" stroke="#ffd600"/>
<rect x="633.85" y="433.82" width="12.43" height="10.72" fill="#ffeb00" stroke="#ffeb00"/>
<rect x="646.27" y="433.82" width="37.28" height="10.72" fill="#ffff00" stroke="#ffff00"/>
<rect x="310.75" y="444.54" width="12.43" height="10.72" fill="#ffff00" stroke="#ffff00"/>
<rect x="323.18" y="444.54" width="12.43" height="10.72" fill="#ffeb00" stroke="#ffeb00"/>
<rect x="360.46" y="444.54" width="12.43" height="10.72" fill="#ffff00" stroke="#ffff00"/>
<rect x="372.89" y="444.54" width="12.43" height="10.72" fill="#ffeb00" stroke="#ffeb00"/>
<rect x="397.74" y="444.54" width="12.43" height="10.72" fill="#ffeb00" stroke="#ffeb00"/>
<rect x="422.59" y="444.54" width="12.43" height="10.72" fill="#ffff00" stroke="#ffff00"/>
<rect x="435.02" y="444.54" width="12.43" height="10.72" fill="#ffeb00" stroke="#ffeb00"/>
<rect x="447.45" y="444.54" width="12.43" height="10.72" fill="#ffff00" stroke="#ffff00"/>
<rect x="484.73" y="444.54" width="12.43" height="10.72" fill="#ffff00" stroke="#ffff00"/>
<rect x="497.15" y="444.54" width="24.85" height="10.72" fill="#ffeb00" stroke="#ffeb00"/>
<rect x="522.01" y="444.54" width="24.85" height="10.72" fill="#ffd600" stroke="#ffd600"/>
<rect x="546.86" y="444.54" width="12.43" height="10.72" fill="#ffeb00" stroke="#ffeb00"/>
<rect x="559.29" y="444.54" width="12.43" height="10.72" fill="#ffc000" stroke="#ffc000"/>
<rect x="571.71" y="444.54" width="24.85" height="10.72" fill="#ffac00" stroke="#ffac00"/>
<rect x="596.57" y="444.54" width="12.43" height="10.72" fill="#ff9800" stroke="#ff9800"/>
<rect x="608.99" y="444.54" width="24.85" height="10.72" fill="#ffd600" stroke="#ffd600"/>
<rect x="633.85" y="444.54" width="24.85" height="10.72" fill="#ffff00" stroke="#ffff00"/>
<rect x="658.70" y="444.54" width="12.43" height="10.72" fill="#ffeb00" stroke="#ffeb00"/>
<rect x="223.77" y="455.26" width="12.43" height="10.72" fill="#ffff00" stroke="#ffff00"/>
<rect x="285.90" y="455.26" width="12.43" height="10.72" fill="#ffeb00" stroke="#ffeb00"/>
<rect x="323.18" y="455.26" width="12.43" height="10.72" fill="#ffff00" stroke="#ffff00"/>
<rect x="348.03" y="455.26" width="24.85" height="10.72" fill="#ffff00" stroke="#ffff00"/>
<rect x="372.89" y="455.26" width="37.28" height="10.72" fill="#ffeb00" stroke="#ffeb00"/>
<rect x="422.59" y="455.26" width="12.43" height="10.72" fill="#ffff00" stroke="#ffff00"/>
<rect x="435.02" y="455.26" width="12.43" height="10.72" fill="#ffeb00" stroke="#ffeb00"/>
<rect x="447.45" y="455.26" width="12.43" height="10.72" fill="#ffd600" stroke="#ffd600"/>
<rect x="459.87" y="455.26" width="37.28" height="10.72" fill="#ffff00" stroke="#ffff00"/>
<rect x="497.15" y="455.26" width="12.43" height="10.72" fill="#ffeb00" stroke="#ffeb00"/>
<rect x="509.58" y="455.26" width="12.43" height="10.72" fill="#ffff00" stroke="#ffff00"/>
<rect x="534.43" y="455.26" width="12.43" height="10.72" fill="#ffff00" stroke="#ffff00"/>
<rect x="546.86" y="455.26" width="12.43" height="10.72" fill="#ffeb00" stroke="#ffeb00"/>
<rect x="559.29" y="455.26" width="12.43" height="10.72" fill="#ffd600" stroke="#ffd600"/>
<rect x="571.71" y="455.26" width="12.43" height="10.72" fill="#ffeb00" stroke="#ffeb00"/>
<rect x="584.14" y="455.26" width="12.43" height="10.72" fill="#ffc000" stroke="#ffc000"/>
<rect x="596.57" y="455.26" width="12.43" height="10.72" fill="#ffac00" stroke="#ffac00"/>
<rect x="608.99" y="455.26" width="12.43" height="10.72" fill="#ffc000" stroke="#ffc000"/>
<rect x="621.42" y="455.26" width="12.43" height="10.72" fill="#ffeb00" stroke="#ffeb00"/>
<rect x="223.77" y="465.98" width="12.43" height="10.72" fill="#ffff00" stroke="#ffff00"/>
<rect x="285.90" y="465.98" width="12.43" height="10.72" fill="#ffeb00" stroke="#ffeb00"/>
<rect x="348.03" y="465.98" width="12.43" height="10.72" fill="#ffff00" stroke="#ffff00"/>
<rect x="360.46" y="465.98" width="12.43" height="10.72" fill="#ffeb00" stroke="#ffeb00"/>
<rect x="385.31" y="465.98" width="24.85" height="10.72" fill="#ffeb00" stroke="#ffeb00"/>
<rect x="435.02" y="465.98" width="12.43" height="10.72" fill="#ffff00" stroke="#ffff00"/>
<rect x="459.87" y="465.98" width="37.28" height="10.72" fill="#ffff00" stroke="#ffff00"/>
<rect x="497.15" y="465.98" width="12.43" height="10.72" fill="#ffeb00" stroke="#ffeb00"/>
<rect x="509.58" y="465.98" width="12.43" height="10.72" fill="#ffff00" stroke="#ffff00"/>
<rect x="534.43" y="465.98" width="24.85" height="10.72" fill="#ffff00" stroke="#ffff00"/>
<rect x="559.29" y="465.98" width="12.43" height="10.72" fill="#ffd600" stroke="#ffd600"/>
<rect x="571.71" y="465.98" width="12.43" height="10.72" fill="#ffeb00" stroke="#ffeb00"/>
<rect x="584.14" y="465.98" width="12.43" height="10.72" fill="#ffd600" stroke="#ffd600"/>
<rect x="596.57" y="465.98" width="12.43" height="10.72" fill="#ffc000" stroke="#ffc000"/>
<rect x="608.99" y="465.98" width="12.43" height="10.72" fill="#ffac00" stroke="#ffac00"/>
<rect x="621.42" y="465.98" width="12.43" height="10.72" fill="#ffc000" stroke="#ffc000"/>
<rect x="298.33" y="476.70" width="12.43" height="10.72" fill="#ffeb00" stroke="#ffeb00"/>
<rect x="385.31" y="476.70" width="12.43" height="10.72" fill="#ffff00" stroke="#ffff00"/>
<rect x="397.74" y="476.70" width="12.43" height="10.72" fill="#ffeb00" stroke="#ffeb00"/>
<rect x="410.17" y="476.70" width="12.43" height="10.72" fill="#ffff00" stroke="#ffff00"/>
<rect x="435.02" y="476.70" width="12.43" height="10.72" fill="#ffeb00" stroke="#ffeb00"/>
<rect x="459.87" y="476.70" width="12.43" height="10.72" fill="#ffff00" stroke="#ffff00"/>
<rect x="472.30" y="476.70" width="12.43" height="10.72" fill="#ffeb00" stroke="#ffeb00"/>
<rect x="484.73" y="476.70" width="37.28" height="10.72" fill="#ffff00" stroke="#ffff00"/>
<rect x="534.43" y="476.70" width="12.43" height="10.72" fill="#ffff00" stroke="#ffff00"/>
<rect x="546.86" y="476.70" width="24.85" height="10.72" fill="#ffeb00" stroke="#ffeb00"/>
<rect x="571.71" y="476.70" width="12.43" height="10.72" fill="#ffff00" stroke="#ffff00"/>
<rect x="596.57" y="476.70" width="24.85" height="10.72" fill="#ffeb00" stroke="#ffeb00"/>
<rect x="298.33" y="487.42" width="24.85" height="10.72" fill="#ffff00" stroke="#ffff00"/>
<rect x="335.61" y="487.42" width="12.43" height="10.72" fill="#ffff00" stroke="#ffff00"/>
<rect x="385.31" y="487.42" width="24.85" height="10.72" fill="#ffff00" stroke="#ffff00"/>
<rect x="422.59" y="487.42" width="12.43" height="10.72" fill="#ffff00" stroke="#ffff00"/>
<rect x="435.02" y="487.42" width="12.43" height="10.72" fill="#ffeb00" stroke="#ffeb00"/>
<rect x="472.30" y="487.42" width="24.85" height="10.72" fill="#ffff00" stroke="#ffff00"/>
<rect x="497.15" y="487.42" width="12.43" height="10.72" fill="#ffd600" stroke="#ffd600"/>
<rect x="509.58" y="487.42" width="12.43" height="10.72" fill="#ffff00" stroke="#ffff00"/>
<rect x="534.43" y="487.42" width="12.43" height="10.72" fill="#ffff00" stroke="#ffff00"/>
<rect x="559.29" y="487.42" width="12.43" height="10.72" fill="#ffff00" stroke="#ffff00"/>
<rect x="385.31" y="498.14" width="37.28" height="10.72" fill="#ffff00" stroke="#ffff00"/>
<rect x="435.02" y="498.14" width="24.85" height="10.72" fill="#ffff00" stroke="#ffff00"/>
<rect x="509.58" y="498.14" width="12.43" height="10.72" fill="#ffff00" stroke="#ffff00"/>
<rect x="546.86" y="498.14" width="12.43" height="10.72" fill="#ffeb00" stroke="#ffeb00"/>
<rect x="435.02" y="508.86" width="49.71" height="10.72" fill="#ffff00" stroke="#ffff00"/>
<rect x="497.15" y="508.86" width="12.43" height="10.72" fill="#ffeb00" stroke="#ffeb00"/>
<polyline points="288.7,33 292.7,41 372.6,198 421.4,290.7" fill="none" stroke="#7f7f7f" stroke-width="2.25" />
<polyline points="309,38.2 313,41 322.9,48.2" fill="none" stroke="#7f7f7f" stroke-width="2.25" />
<polyline points="233.3,219.1 258,198 357.7,110.9" fill="none" stroke="#7f7f7f" stroke-width="2.25" />
<polyline points="95,176.3 100,178.4 105,181 109,185 115,193 134,217 138,219.6 298,283 331.6,297" fill="none" stroke="#7f7f7f" stroke-width="2.25" />
<polyline points="208.5,216.2 264.4,229.6 268.2,231.6 298,252.2 351.5,287.6 388.3,326.1" fill="none" stroke="#7f7f7f" stroke-width="2.25" />
<polyline points="215.4,380.9 242,412.7 248.3,423.2 260.7,451.3 265.7,455 298,470.4 317.9,479.1 381.3,523 385,526" fill="none" stroke="#7f7f7f" stroke-width="2.25" />
<polyline points="383.8,421.4 497,497.3 534.8,523 540,526.5" fill="none" stroke="#7f7f7f" stroke-width="2.25" />
<polyline points="421.75,274.2 431.5,298.5 660.2,519.2" fill="none" stroke="#7f7f7f" stroke-width="2.25" />
<polyline points="421.75,274.2 429.5,270.75 439.8,294.3 668.5,515 660.2,519.2" fill="none" stroke="#7f7f7f" stroke-width="1" stroke-dasharray="1.6,1.7"/>
<polyline points="431.5,298.5 439.8,294.3" fill="none" stroke="#7f7f7f" stroke-width="1" stroke-dasharray="1.6,1.7"/>
<polyline points="452.291,318.564 460.591,314.364" fill="none" stroke="#7f7f7f" stroke-width="1" stroke-dasharray="1.6,1.7"/>
<polyline points="473.082,338.627 481.382,334.427" fill="none" stroke="#7f7f7f" stroke-width="1" stroke-dasharray="1.6,1.7"/>
<polyline points="493.873,358.691 502.173,354.491" fill="none" stroke="#7f7f7f" stroke-width="1" stroke-dasharray="1.6,1.7"/>
<polyline points="514.664,378.755 522.964,374.555" fill="none" stroke="#7f7f7f" stroke-width="1" stroke-dasharray="1.6,1.7"/>
<polyline points="535.455,398.818 543.755,394.618" fill="none" stroke="#7f7f7f" stroke-width="1" stroke-dasharray="1.6,1.7"/>
<polyline points="556.245,418.882 564.545,414.682" fill="none" stroke="#7f7f7f" stroke-width="1" stroke-dasharray="1.6,1.7"/>
<polyline points="577.036,438.945 585.336,434.745" fill="none" stroke="#7f7f7f" stroke-width="1" stroke-dasharray="1.6,1.7"/>
<polyline points="597.827,459.009 606.127,454.809" fill="none" stroke="#7f7f7f" stroke-width="1" stroke-dasharray="1.6,1.7"/>
<polyline points="618.618,479.073 626.918,474.873" fill="none" stroke="#7f7f7f" stroke-width="1" stroke-dasharray="1.6,1.7"/>
<polyline points="639.409,499.136 647.709,494.936" fill="none" stroke="#7f7f7f" stroke-width="1" stroke-dasharray="1.6,1.7"/>
<polyline points="95,339.1 99,340.4 140.5,353.6" fill="none" stroke="#7f7f7f" stroke-width="2.25" />
<polyline points="95,329.3 100.6,331.2 107,333.5 146.8,346 140.5,353.6" fill="none" stroke="#7f7f7f" stroke-width="1" stroke-dasharray="1.6,1.7"/>
<polyline points="107,333.5 101.9,340.6" fill="none" stroke="#7f7f7f" stroke-width="1" stroke-dasharray="1.6,1.7"/>
<polyline points="100,438.04 765,395.63" fill="none" stroke="#1a1a1a" stroke-width="1.1" />
</g>
<rect x="99.5" y="41.5" width="666" height="482" fill="none" stroke="#b2b2b2" stroke-width="1"/>
<rect x="99" y="41" width="1" height="483" fill="#969696"/>
<rect x="99" y="523" width="667" height="1" fill="#969696"/>
<rect x="50" y="590" width="35.5" height="16" fill="#ffff00"/>
<rect x="85" y="590" width="35.5" height="16" fill="#ffeb00"/>
<rect x="120" y="590" width="35.5" height="16" fill="#ffd600"/>
<rect x="155" y="590" width="35.5" height="16" fill="#ffc000"/>
<rect x="190" y="590" width="35.5" height="16" fill="#ffac00"/>
<rect x="225" y="590" width="35.5" height="16" fill="#ff9800"/>
<rect x="260" y="590" width="35.5" height="16" fill="#ff8000"/>
<rect x="295" y="590" width="35.5" height="16" fill="#fe6400"/>
<rect x="330" y="590" width="35.5" height="16" fill="#fa4400"/>
<rect x="365" y="590" width="35.5" height="16" fill="#ee1c08"/>
<rect x="400" y="590" width="35.5" height="16" fill="#d70a00"/>
<rect x="435" y="590" width="35.5" height="16" fill="#c00500"/>
<rect x="470" y="590" width="35.5" height="16" fill="#ac0200"/>
<rect x="505" y="590" width="35.5" height="16" fill="#960000"/>
<rect x="540" y="590" width="35.5" height="16" fill="#820000"/>
<rect x="575" y="590" width="35.5" height="16" fill="#680000"/>
<rect x="610" y="590" width="35.5" height="16" fill="#580000"/>
<rect x="645" y="590" width="35.5" height="16" fill="#460000"/>
<rect x="680" y="590" width="35.5" height="16" fill="#300000"/>
<rect x="715" y="590" width="35" height="16" fill="#000000"/>
<rect x="49.5" y="590.5" width="700.5" height="15" fill="none" stroke="#808080" stroke-opacity="0.45" stroke-width="1"/>
<rect x="50" y="606" width="1" height="2" fill="#8c8c8c"/>
<rect x="120" y="606" width="1" height="2" fill="#8c8c8c"/>
<rect x="190" y="606" width="1" height="2" fill="#8c8c8c"/>
<rect x="260" y="606" width="1" height="2" fill="#8c8c8c"/>
<rect x="330" y="606" width="1" height="2" fill="#8c8c8c"/>
<rect x="400" y="606" width="1" height="2" fill="#8c8c8c"/>
<rect x="470" y="606" width="1" height="2" fill="#8c8c8c"/>
<rect x="540" y="606" width="1" height="2" fill="#8c8c8c"/>
<rect x="610" y="606" width="1" height="2" fill="#8c8c8c"/>
<rect x="680" y="606" width="1" height="2" fill="#8c8c8c"/>
<rect x="749.5" y="606" width="1" height="2" fill="#8c8c8c"/>
</svg>
<div class="t title">1 Month M≥3 Forecast</div>
<div class="t tk yt" style="top:90.5px">33.25</div>
<div class="t tk yt" style="top:224.5px">33</div>
<div class="t tk yt" style="top:358.5px">32.75</div>
<div class="t tk yt" style="top:492.5px">32.5</div>
<div class="t tk xt" style="left:83px">-116</div>
<div class="t tk xt" style="left:238px">-115.75</div>
<div class="t tk xt" style="left:394px">-115.5</div>
<div class="t tk xt" style="left:549px">-115.25</div>
<div class="t ax" style="left:377px;top:559px;transform:scale(1.006,1.02)">Longitude</div>
<div class="t ax" id="ylab" style="left:18px;top:283px;transform:translate(-50%,-50%) rotate(-90deg) scale(1.006,1.02);transform-origin:50% 50%;">Latitude</div>
<div class="t cb" style="left:10px">-5.0</div>
<div class="t cb" style="left:80px">-4.5</div>
<div class="t cb" style="left:150px">-4.0</div>
<div class="t cb" style="left:220px">-3.5</div>
<div class="t cb" style="left:290px">-3.0</div>
<div class="t cb" style="left:360px">-2.5</div>
<div class="t cb" style="left:430px">-2.0</div>
<div class="t cb" style="left:500px">-1.5</div>
<div class="t cb" style="left:570px">-1.0</div>
<div class="t cb" style="left:640px">-0.5</div>
<div class="t cb" style="left:710px">0.0</div>

<div class="t ax" style="left:0;width:800px;text-align:center;top:639px;transform:scale(1.0,1.02)">Log10 Probability M≥3, 1 Month</div>
</body></html>
